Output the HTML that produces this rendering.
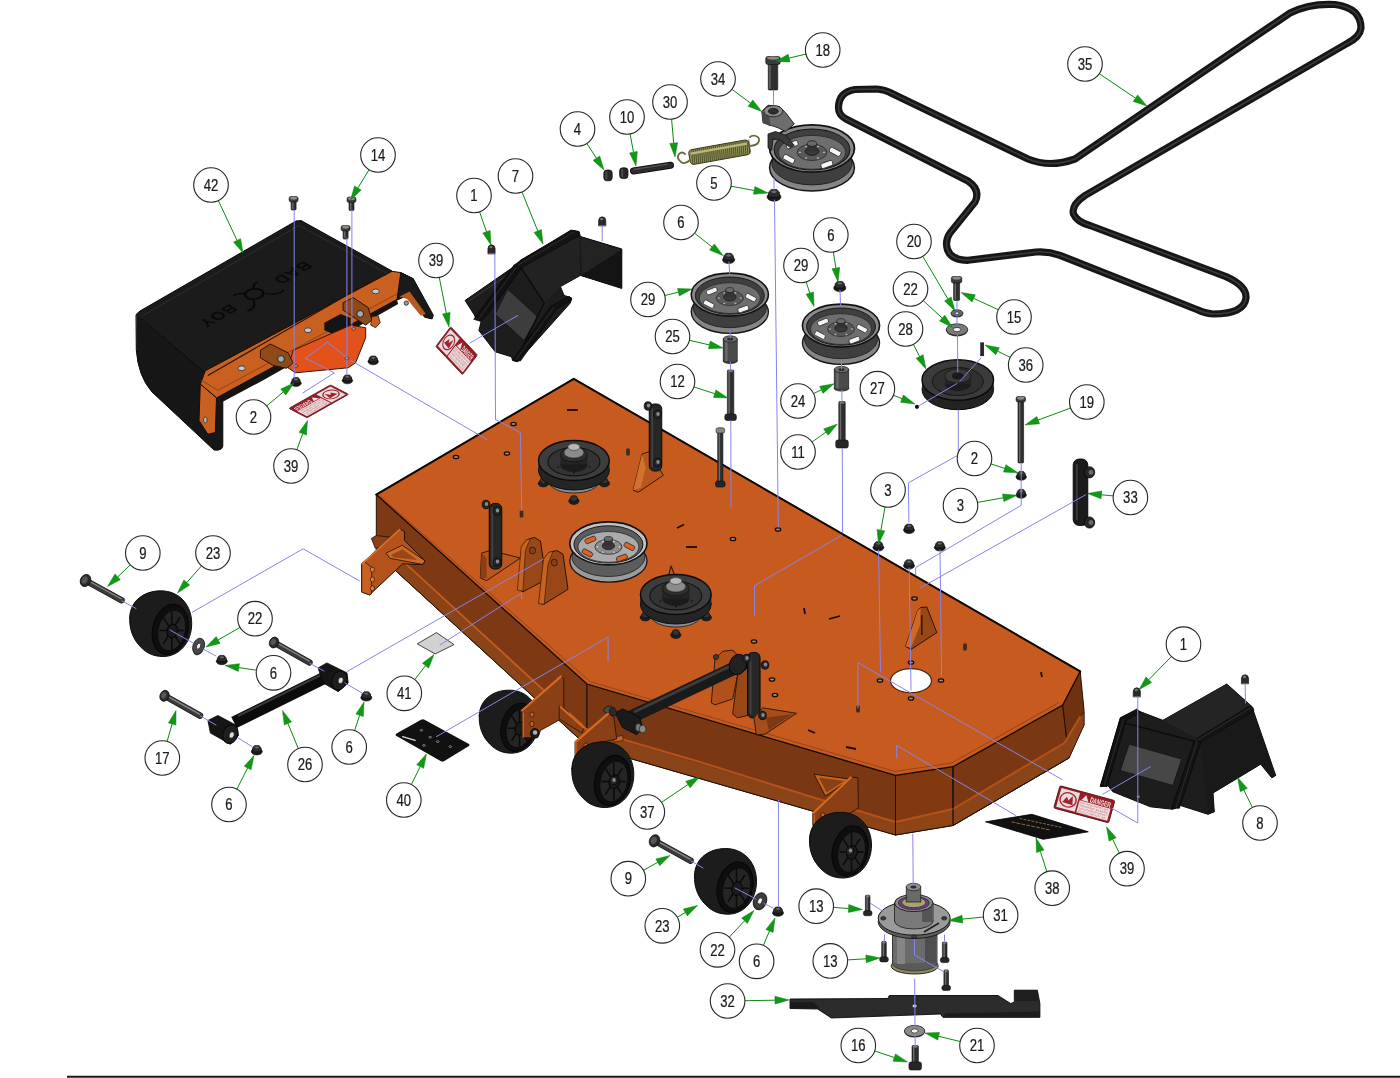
<!DOCTYPE html>
<html lang="en">
<head>
<meta charset="utf-8">
<title>Deck Assembly Parts Diagram</title>
<style>
html,body{margin:0;padding:0;background:#fff;}
body{width:1400px;height:1078px;overflow:hidden;font-family:"Liberation Sans",sans-serif;}
svg{display:block;}
svg text{font-family:"Liberation Sans",sans-serif;font-size:16.6px;fill:#1a1a1a;stroke:#1a1a1a;stroke-width:0.25px;text-anchor:middle;}
</style>
</head>
<body>
<svg width="1400" height="1078" viewBox="0 0 1400 1078">
<defs><filter id="nf" x="0" y="0" width="1400" height="1078" filterUnits="userSpaceOnUse" color-interpolation-filters="sRGB"><feOffset dx="0" dy="0"/></filter></defs>
<rect x="0" y="0" width="1400" height="1078" fill="#ffffff"/>
<polygon points="376.3,494.6 376.3,553 587,746 587,684" fill="#7d3914" stroke="#1f0f06" stroke-width="1" stroke-linejoin="round"/>
<polygon points="377,540 376.3,553 587,746 587,731" fill="#8a4417"/>
<polygon points="587,684 587,746 895.5,835 895.5,775.4" fill="#7a3713" stroke="#1f0f06" stroke-width="1" stroke-linejoin="round"/>
<polygon points="895.5,775.4 895.5,835 953,825.5 953,766.7" fill="#82390f" stroke="#1f0f06" stroke-width="1" stroke-linejoin="round"/>
<polygon points="953,766.7 953,825.5 1069,758 1062.7,705" fill="#7a3713" stroke="#1f0f06" stroke-width="1" stroke-linejoin="round"/>
<polygon points="1062.7,705 1069,758 1084,725 1084,710 1080.2,671.4" fill="#6e3210" stroke="#1f0f06" stroke-width="1" stroke-linejoin="round"/>
<polyline points="378,538.5 587,730" fill="none" stroke="#c25a1e" stroke-width="2" stroke-linejoin="round" stroke-linecap="round"/>
<polyline points="376.3,553 587,746" fill="none" stroke="#1f0f06" stroke-width="1" stroke-linejoin="round" stroke-linecap="round"/>
<polygon points="587,730 587,746 895.5,835 895.5,822.5" fill="#8a4417"/>
<polyline points="587,729 700,762 812,797 895.5,822" fill="none" stroke="#b5521b" stroke-width="2" stroke-linejoin="round" stroke-linecap="round"/>
<polygon points="895.5,822.5 895.5,835 953,825.5 953,809" fill="#8f4416"/>
<polygon points="953,809 953,825.5 1069,758 1084,725 1084,712 1080,717 1064.4,743" fill="#8a4417" stroke="#1f0f06" stroke-width="0.6" stroke-linejoin="round"/>
<polyline points="895.5,822 953,809 1064.4,743 1080,717" fill="none" stroke="#b5521b" stroke-width="2" stroke-linejoin="round" stroke-linecap="round"/>
<polyline points="895.5,775.4 895.5,835" fill="none" stroke="#1f0f06" stroke-width="1" stroke-linejoin="round" stroke-linecap="round"/>
<polyline points="953,766.7 953,825.5" fill="none" stroke="#1f0f06" stroke-width="1" stroke-linejoin="round" stroke-linecap="round"/>
<polyline points="587,746 895.5,835 953,825.5 1069,758" fill="none" stroke="#1f0f06" stroke-width="1" stroke-linejoin="round" stroke-linecap="round"/>
<polygon points="371.4,538.4 376.3,535.5 400.7,538.4 398.7,546.2 375.3,548.2" fill="#8a3f15" stroke="#1f0f06" stroke-width="0.8" stroke-linejoin="round"/>
<polygon points="361.7,563.8 399.7,528.7 404.5,531.6 404.5,540.4 425,560.8 423.1,564.7 402.6,563.8 369.5,594.9 361.7,592" fill="#b5521c" stroke="#1f0f06" stroke-width="1" stroke-linejoin="round"/>
<polygon points="361.7,563.8 364.6,561.8 371.8,567.3 371.4,594 369.5,594.9 361.7,592" fill="#c9601f" stroke="#1f0f06" stroke-width="0.7" stroke-linejoin="round"/>
<polygon points="386,553.1 402.2,545.3 425,560.8 422.5,564.4 389.9,558.3" fill="#d06a26" stroke="#1f0f06" stroke-width="0.8" stroke-linejoin="round"/>
<polygon points="390.9,555 402.6,549.2 417.2,559.9 393.8,557.5" fill="#9a4718"/>
<polyline points="362.1,563.8 399.7,529.3" fill="none" stroke="#d8722a" stroke-width="1.6" stroke-linejoin="round" stroke-linecap="round"/>
<ellipse cx="372.4" cy="569.6" rx="2" ry="2.6" fill="#d8824a" stroke="#3a1a08" stroke-width="0.8"/>
<ellipse cx="372.4" cy="579.4" rx="2" ry="2.6" fill="#d8824a" stroke="#3a1a08" stroke-width="0.8"/>
<ellipse cx="372.4" cy="588.3" rx="2" ry="2.6" fill="#d8824a" stroke="#3a1a08" stroke-width="0.8"/>
<polygon points="573.8,378.8 376.3,494.6 587,684 895.5,775.4 953,766.7 1062.7,705 1080.2,671.4" fill="#c65a1f" stroke="#160a04" stroke-width="1.3" stroke-linejoin="round"/>
<polyline points="381,497 590,681.5 895,771.5 951.5,763 1059,702.5" fill="none" stroke="#8a3f15" stroke-width="0.8" stroke-linejoin="round" stroke-linecap="round"/>
<polyline points="376.3,494.6 573.8,378.8 1080.2,671.4" fill="none" stroke="#120803" stroke-width="2" stroke-linejoin="round" stroke-linecap="round"/>
<ellipse cx="911" cy="680.7" rx="20.5" ry="12" fill="#ffffff" stroke="#4a220c" stroke-width="1.2"/>
<ellipse cx="456" cy="457" rx="2.7" ry="1.7" fill="#9a8a80" stroke="#1a0a04" stroke-width="1.3"/>
<ellipse cx="507" cy="453.5" rx="2.7" ry="1.7" fill="#9a8a80" stroke="#1a0a04" stroke-width="1.3"/>
<ellipse cx="513.5" cy="424" rx="2.7" ry="1.7" fill="#9a8a80" stroke="#1a0a04" stroke-width="1.3"/>
<ellipse cx="733" cy="539" rx="2.7" ry="1.7" fill="#9a8a80" stroke="#1a0a04" stroke-width="1.3"/>
<ellipse cx="778" cy="529.5" rx="2.7" ry="1.7" fill="#9a8a80" stroke="#1a0a04" stroke-width="1.3"/>
<ellipse cx="754" cy="641.5" rx="2.7" ry="1.7" fill="#9a8a80" stroke="#1a0a04" stroke-width="1.3"/>
<ellipse cx="772" cy="679.5" rx="2.7" ry="1.7" fill="#9a8a80" stroke="#1a0a04" stroke-width="1.3"/>
<ellipse cx="775" cy="695" rx="2.7" ry="1.7" fill="#9a8a80" stroke="#1a0a04" stroke-width="1.3"/>
<ellipse cx="880" cy="680.5" rx="2.7" ry="1.7" fill="#9a8a80" stroke="#1a0a04" stroke-width="1.3"/>
<ellipse cx="911" cy="662.5" rx="2.7" ry="1.7" fill="#9a8a80" stroke="#1a0a04" stroke-width="1.3"/>
<ellipse cx="941" cy="680.5" rx="2.7" ry="1.7" fill="#9a8a80" stroke="#1a0a04" stroke-width="1.3"/>
<ellipse cx="911" cy="698.5" rx="2.7" ry="1.7" fill="#9a8a80" stroke="#1a0a04" stroke-width="1.3"/>
<ellipse cx="914.5" cy="598.5" rx="2.7" ry="1.7" fill="#9a8a80" stroke="#1a0a04" stroke-width="1.3"/>
<line x1="567" y1="410" x2="578" y2="410" stroke="#1a0a04" stroke-width="1.8"/>
<line x1="677" y1="528" x2="684" y2="524.5" stroke="#1a0a04" stroke-width="1.8"/>
<line x1="686" y1="547" x2="697" y2="547" stroke="#1a0a04" stroke-width="1.8"/>
<line x1="829" y1="619" x2="840" y2="616" stroke="#1a0a04" stroke-width="1.8"/>
<line x1="808" y1="730" x2="815" y2="733" stroke="#1a0a04" stroke-width="1.8"/>
<line x1="846" y1="747" x2="856" y2="749" stroke="#1a0a04" stroke-width="1.8"/>
<line x1="1041" y1="672" x2="1042" y2="677" stroke="#1a0a04" stroke-width="1.8"/>
<line x1="804" y1="608" x2="805" y2="614" stroke="#1a0a04" stroke-width="1.8"/>
<rect x="519.7" y="510.5" width="3.6" height="7" rx="1" fill="#3a2a22"/>
<rect x="626.2" y="448.5" width="3.6" height="7" rx="1" fill="#3a2a22"/>
<rect x="856.2" y="705.5" width="3.6" height="7" rx="1" fill="#3a2a22"/>
<rect x="963.2" y="643.5" width="3.6" height="7" rx="1" fill="#3a2a22"/>
<path d="M136.3,315 L205,372 L222.8,400 L222.8,446 Q222,451 214,450 L152,392 Q138,376 136.3,350 Z" fill="#161616" stroke="#0a0a0a" stroke-width="1" stroke-linejoin="round" stroke-linecap="round"/>
<polygon points="136.3,314.2 140,311 296,221 301,220.5 392,271 204,372" fill="#1b1b1b" stroke="#0a0a0a" stroke-width="1" stroke-linejoin="round"/>
<polyline points="142,316 299,225.5 388,274" fill="none" stroke="#2e2e2e" stroke-width="1" stroke-linejoin="round" stroke-linecap="round"/>
<g filter="url(#nf)"><g transform="matrix(-0.866 0.5 -0.866 -0.5 256 294)">
<text x="-42" y="5.5" style="font-size:16px;font-weight:bold;fill:#0a0a0a;stroke:none;letter-spacing:1px">BAD</text>
<text x="44" y="5.5" style="font-size:16px;font-weight:bold;fill:#0a0a0a;stroke:none;letter-spacing:1px">BOY</text>
<ellipse cx="1" cy="1" rx="8" ry="7" fill="none" stroke="#070707" stroke-width="2"/>
<path d="M-6,-5 q-6,-10 -14,-7 M8,-5 q6,-10 14,-7 M-4,7 q-4,5 -9,4 M6,7 q4,5 9,4" fill="none" stroke="#070707" stroke-width="1.8"/>
</g></g>
<polygon points="216.5,394.1 395.7,296.4 398.2,303.9 265.4,379.1 223.3,401.6" fill="#141414"/>
<polygon points="200.3,384.1 205.3,370.8 392,271.3 400.8,272.6 413.3,278.8 410.8,292.6 395.7,300.1 216.5,397.9" fill="#c9601f" stroke="#1a0d05" stroke-width="1" stroke-linejoin="round"/>
<polyline points="208.3,375.3 370.7,281.3" fill="none" stroke="#2a1408" stroke-width="1.2" stroke-linejoin="round" stroke-linecap="round"/>
<polyline points="201.5,380.3 217.8,390.4 397,293.9" fill="none" stroke="#8a3f15" stroke-width="0.9" stroke-linejoin="round" stroke-linecap="round"/>
<polygon points="400.8,272.6 413.3,278.8 433.3,315.2 432.1,318.9 424.6,317.2 408.3,295.1 397,300.1" fill="#1a1a1a" stroke="#0a0a0a" stroke-width="1" stroke-linejoin="round"/>
<polygon points="399.5,296.4 409.5,291.4 425.8,313.9 420.8,315.7 407,298.9" fill="#b85a1f"/>
<polygon points="200.3,384.1 216.5,397.9 215.3,432.5 207.8,434.2 199,420.4" fill="#c9601f" stroke="#1a0d05" stroke-width="1" stroke-linejoin="round"/>
<ellipse cx="205.3" cy="419.9" rx="1.8" ry="3" fill="#b9b9b9" stroke="#333" stroke-width="0.8"/>
<ellipse cx="241.6" cy="368.3" rx="3.6" ry="2.4" fill="#c8c8c8" stroke="#3a3a3a" stroke-width="0.9"/>
<ellipse cx="308" cy="330.2" rx="3.6" ry="2.4" fill="#c8c8c8" stroke="#3a3a3a" stroke-width="0.9"/>
<ellipse cx="375.7" cy="291.4" rx="3.6" ry="2.4" fill="#c8c8c8" stroke="#3a3a3a" stroke-width="0.9"/>
<polygon points="324.3,322.7 340.6,313.9 350.6,317.7 350.6,325.2 333.1,334 324.3,330.2" fill="#141414"/>
<polygon points="293,350.3 350.6,325.2 365.7,327.7 365.7,337.7 355.6,362.8 348.1,367.8 295.5,372.8 288,367.8" fill="#e4521b" stroke="#3a1406" stroke-width="1" stroke-linejoin="round"/>
<polygon points="260.4,350.3 270.4,344 288,352.8 293,362.8 286.7,368.3 272.9,365.3 260.4,357.8" fill="#8f4a1b" stroke="#2a1408" stroke-width="1" stroke-linejoin="round"/>
<polygon points="343.1,302.6 353.1,297.6 368.2,307.6 371.9,320.2 365.7,325.2 350.6,315.2 343.1,310.2" fill="#8f4a1b" stroke="#2a1408" stroke-width="1" stroke-linejoin="round"/>
<ellipse cx="281" cy="359" rx="3.4" ry="3.4" fill="#a9a9a9" stroke="#222" stroke-width="1"/>
<ellipse cx="360.2" cy="313.9" rx="3.4" ry="3.4" fill="#a9a9a9" stroke="#222" stroke-width="1"/>
<polygon points="371.9,316.4 378.2,315.7 380.2,322.7 375.7,327.7 370.7,325.2" fill="#c9601f" stroke="#2a1408" stroke-width="0.8" stroke-linejoin="round"/>
<ellipse cx="353.6" cy="328.9" rx="1.8" ry="1.3" fill="#c9a088" stroke="#3a1a08" stroke-width="0.7"/>
<ellipse cx="346.9" cy="358.5" rx="1.8" ry="1.3" fill="#c9a088" stroke="#3a1a08" stroke-width="0.7"/>
<ellipse cx="296" cy="365.8" rx="1.8" ry="1.3" fill="#c9a088" stroke="#3a1a08" stroke-width="0.7"/>
<ellipse cx="406.3" cy="303.1" rx="2.2" ry="2.2" fill="#999" stroke="#222" stroke-width="0.8"/>
<polygon points="465.1,300.4 514,266.6 520.3,260.3 571.6,230.3 579.1,231.5 580.4,236.5 621.8,249 621.8,288.4 580.4,275.4 560.4,286.6 564.1,295.4 571.6,297.9 570.4,302.9 517.7,361.8 512.7,360.6 511.5,356.8 495.2,351.8 478.9,330.5 481.4,320.5 476.4,319.2 473.9,314.2" fill="#1d1d1d" stroke="#0a0a0a" stroke-width="1" stroke-linejoin="round"/>
<polygon points="580.4,236.5 621.8,249 621.8,288.4 580.4,275.4" fill="#141414"/>
<polygon points="580.4,237.3 621.3,249.8 581.7,274.9" fill="#232323"/>
<polygon points="520.3,264.1 572.9,234 579.1,237.8 580.4,275.4 560.4,286.6 545.3,302.9 522.8,270.4" fill="#222"/>
<polygon points="507.7,289.1 537.8,316.7 524,340.5 495.2,314.2" fill="#3d3d3d" stroke="#111" stroke-width="0.8" stroke-linejoin="round"/>
<polyline points="467.6,301.7 516.5,269.1 572.9,232.8" fill="none" stroke="#3a3a3a" stroke-width="1" stroke-linejoin="round" stroke-linecap="round"/>
<polyline points="520.3,266.6 544.1,302.9 516.5,359.3" fill="none" stroke="#0c0c0c" stroke-width="1.5" stroke-linejoin="round" stroke-linecap="round"/>
<polygon points="473.7,319.3 513.3,266.1 519,262.5 522.6,266.8 485.2,317.1 480.9,321.4" fill="#121212" stroke="#060606" stroke-width="0.7" stroke-linejoin="round"/>
<polyline points="478.8,318.6 517.6,265.4" fill="none" stroke="#333" stroke-width="0.8" stroke-linejoin="round" stroke-linecap="round"/>
<polygon points="512.5,360.3 550.6,306.3 569.3,296.3 571.9,299.9 556.4,309.2 520.5,361" fill="#121212" stroke="#060606" stroke-width="0.7" stroke-linejoin="round"/>
<polyline points="516.1,359.5 553.5,307.8" fill="none" stroke="#333" stroke-width="0.8" stroke-linejoin="round" stroke-linecap="round"/>
<polygon points="513.3,265.4 570.8,230.1 578,231.6 578.7,235.9 521.9,267.5" fill="#141414" stroke="#060606" stroke-width="0.6" stroke-linejoin="round"/>
<polyline points="517.6,265.4 573.7,232.3" fill="none" stroke="#333" stroke-width="0.8" stroke-linejoin="round" stroke-linecap="round"/>
<polygon points="1120.3,717.8 1136.6,710.3 1162.9,720.3 1226.8,684 1251.9,706.5 1275.7,775.4 1271.9,777.9 1260.7,764.2 1213,793 1214.3,811.8 1208,814.3 1180.5,805.5 1172.9,809.3 1150.4,806.8 1112.8,791.7 1107.8,785.5 1100.3,786.7" fill="#1d1d1d" stroke="#0a0a0a" stroke-width="1" stroke-linejoin="round"/>
<polygon points="1200.5,740.4 1251.9,709 1275.7,775.4 1271.9,777.9 1260.7,764.2 1213,793 1214.3,811.8 1208,814.3" fill="#191919"/>
<polygon points="1162.9,720.3 1226.8,684 1251.9,706.5 1198,739.1" fill="#242424"/>
<polygon points="1129.1,744.1 1181.7,759.1 1172.9,785.5 1120.3,770.4" fill="#474747" stroke="#111" stroke-width="0.8" stroke-linejoin="round"/>
<polyline points="1195.5,740.4 1250.6,707.8" fill="none" stroke="#3a3a3a" stroke-width="1.2" stroke-linejoin="round" stroke-linecap="round"/>
<polyline points="1124.1,722.8 1195.5,741.6 1175.4,808" fill="none" stroke="#0c0c0c" stroke-width="1.5" stroke-linejoin="round" stroke-linecap="round"/>
<polyline points="1121.6,720.3 1101.5,785.5" fill="none" stroke="#0c0c0c" stroke-width="1.5" stroke-linejoin="round" stroke-linecap="round"/>
<ellipse cx="1138.3" cy="796.7" rx="1.6" ry="1.2" fill="#777"/>
<polygon points="1100.4,785.7 1120.5,717.7 1136.7,709.1 1140.6,712 1126.2,720.6 1107,786.8" fill="#121212" stroke="#060606" stroke-width="0.7" stroke-linejoin="round"/>
<polyline points="1123.4,719.6 1104.4,785" fill="none" stroke="#333" stroke-width="0.8" stroke-linejoin="round" stroke-linecap="round"/>
<polygon points="1171.7,808.3 1194.2,740.7 1201,741.9 1179.4,808.3" fill="#131313" stroke="#060606" stroke-width="0.7" stroke-linejoin="round"/>
<polyline points="1197.1,741.6 1176,807.7" fill="none" stroke="#343434" stroke-width="0.8" stroke-linejoin="round" stroke-linecap="round"/>
<polygon points="1195.7,739 1249.6,705.9 1253.2,707.7 1253.9,711 1200.7,742.6" fill="#141414" stroke="#060606" stroke-width="0.6" stroke-linejoin="round"/>
<polyline points="1197.1,740.5 1250.7,707.7" fill="none" stroke="#333" stroke-width="0.8" stroke-linejoin="round" stroke-linecap="round"/>
<g filter="url(#nf)"><g transform="matrix(0.9804 0.2661 -0.2423 0.8577 1060 785.7)">
<rect x="0" y="0" width="56" height="26" rx="1.5" fill="#9a1c26" stroke="#4a0a10" stroke-width="0.8"/>
<rect x="2" y="2" width="19" height="22" fill="#e8dcdc"/>
<circle cx="11.5" cy="13" r="8" fill="#e8dcdc" stroke="#a3212b" stroke-width="1.4"/>
<path d="M6.5,17 l3,-7 l2.5,3.5 l3,-6 l2,10 z" fill="#a3212b"/>
<rect x="22.5" y="10" width="31.5" height="14" fill="#eee3e3"/>
<path d="M24,9.2 l3.6,-6.6 l3.6,6.6 z" fill="#f1e4e4"/>
<text x="42.8" y="9.3" style="font-size:8.6px;font-weight:bold;fill:#f3e6e6;stroke:none" textLength="21" lengthAdjust="spacingAndGlyphs">DANGER</text>
<text x="38.2" y="13.4" style="font-size:3px;fill:#c0555e;stroke:none" textLength="29" lengthAdjust="spacingAndGlyphs">KEEP HANDS AND FEET AWAY</text>
<text x="38.2" y="16.6" style="font-size:3px;fill:#c0555e;stroke:none" textLength="29" lengthAdjust="spacingAndGlyphs">ROTATING BLADES</text>
<text x="38.2" y="19.8" style="font-size:3px;fill:#c0555e;stroke:none" textLength="29" lengthAdjust="spacingAndGlyphs">DO NOT OPERATE WITHOUT</text>
<text x="38.2" y="23" style="font-size:3px;fill:#c0555e;stroke:none" textLength="29" lengthAdjust="spacingAndGlyphs">DEFLECTOR IN PLACE</text>
</g></g>
<g filter="url(#nf)"><g transform="matrix(-0.7429 0.4196 0.6962 0.3615 330.5 384.9)">
<rect x="0" y="0" width="56" height="26" rx="1.5" fill="#9a1c26" stroke="#4a0a10" stroke-width="0.8"/>
<rect x="2" y="2" width="19" height="22" fill="#e8dcdc"/>
<circle cx="11.5" cy="13" r="8" fill="#e8dcdc" stroke="#a3212b" stroke-width="1.4"/>
<path d="M6.5,17 l3,-7 l2.5,3.5 l3,-6 l2,10 z" fill="#a3212b"/>
<rect x="22.5" y="10" width="31.5" height="14" fill="#eee3e3"/>
<path d="M24,9.2 l3.6,-6.6 l3.6,6.6 z" fill="#f1e4e4"/>
<text x="42.8" y="9.3" style="font-size:8.6px;font-weight:bold;fill:#f3e6e6;stroke:none" textLength="21" lengthAdjust="spacingAndGlyphs">DANGER</text>
<text x="38.2" y="13.4" style="font-size:3px;fill:#c0555e;stroke:none" textLength="29" lengthAdjust="spacingAndGlyphs">KEEP HANDS AND FEET AWAY</text>
<text x="38.2" y="16.6" style="font-size:3px;fill:#c0555e;stroke:none" textLength="29" lengthAdjust="spacingAndGlyphs">ROTATING BLADES</text>
<text x="38.2" y="19.8" style="font-size:3px;fill:#c0555e;stroke:none" textLength="29" lengthAdjust="spacingAndGlyphs">DO NOT OPERATE WITHOUT</text>
<text x="38.2" y="23" style="font-size:3px;fill:#c0555e;stroke:none" textLength="29" lengthAdjust="spacingAndGlyphs">DEFLECTOR IN PLACE</text>
</g></g>
<g filter="url(#nf)"><g transform="matrix(0.4768 0.5054 -0.5731 0.7577 450.7 326.7)">
<rect x="0" y="0" width="56" height="26" rx="1.5" fill="#9a1c26" stroke="#4a0a10" stroke-width="0.8"/>
<rect x="2" y="2" width="19" height="22" fill="#e8dcdc"/>
<circle cx="11.5" cy="13" r="8" fill="#e8dcdc" stroke="#a3212b" stroke-width="1.4"/>
<path d="M6.5,17 l3,-7 l2.5,3.5 l3,-6 l2,10 z" fill="#a3212b"/>
<rect x="22.5" y="10" width="31.5" height="14" fill="#eee3e3"/>
<path d="M24,9.2 l3.6,-6.6 l3.6,6.6 z" fill="#f1e4e4"/>
<text x="42.8" y="9.3" style="font-size:8.6px;font-weight:bold;fill:#f3e6e6;stroke:none" textLength="21" lengthAdjust="spacingAndGlyphs">DANGER</text>
<text x="38.2" y="13.4" style="font-size:3px;fill:#c0555e;stroke:none" textLength="29" lengthAdjust="spacingAndGlyphs">KEEP HANDS AND FEET AWAY</text>
<text x="38.2" y="16.6" style="font-size:3px;fill:#c0555e;stroke:none" textLength="29" lengthAdjust="spacingAndGlyphs">ROTATING BLADES</text>
<text x="38.2" y="19.8" style="font-size:3px;fill:#c0555e;stroke:none" textLength="29" lengthAdjust="spacingAndGlyphs">DO NOT OPERATE WITHOUT</text>
<text x="38.2" y="23" style="font-size:3px;fill:#c0555e;stroke:none" textLength="29" lengthAdjust="spacingAndGlyphs">DEFLECTOR IN PLACE</text>
</g></g>
<polygon points="417.2,643.9 436.5,632.6 454,644.6 435.2,653.9" fill="#d2d2d2" stroke="#333" stroke-width="0.9" stroke-linejoin="round"/>
<path d="M396.5,733.5 L421,719.8 Q423,718.8 425,719.9 L468.5,743.8 Q470.5,745 468.5,746.3 L444,761.2 Q442.5,762 441,761.2 L396.5,736 Q394.5,734.8 396.5,733.5 Z" fill="#111"/>
<polyline points="402.6,736.6 415.2,740.4" fill="none" stroke="#ddd" stroke-width="1.2" stroke-linejoin="round" stroke-linecap="round"/>
<ellipse cx="421.4" cy="730.3" rx="1.3" ry="0.9" fill="none" stroke="#bbb" stroke-width="0.6"/>
<ellipse cx="430.2" cy="737.3" rx="1.3" ry="0.9" fill="none" stroke="#bbb" stroke-width="0.6"/>
<ellipse cx="437.7" cy="741.6" rx="1.3" ry="0.9" fill="none" stroke="#bbb" stroke-width="0.6"/>
<ellipse cx="450.3" cy="746.6" rx="1.3" ry="0.9" fill="none" stroke="#bbb" stroke-width="0.6"/>
<ellipse cx="423.9" cy="745.4" rx="1.3" ry="0.9" fill="none" stroke="#bbb" stroke-width="0.6"/>
<polygon points="985.5,821.8 1031.9,814.3 1088.3,831.8 1043.2,839.3" fill="#111" stroke="#000" stroke-width="0.8" stroke-linejoin="round"/>
<polyline points="1012,822 1050,830" fill="none" stroke="#8a6a3a" stroke-width="1" stroke-linejoin="round" stroke-linecap="round" stroke-dasharray="3 2"/>
<polyline points="1020,818.5 1062,827.5" fill="none" stroke="#8a6a3a" stroke-width="1" stroke-linejoin="round" stroke-linecap="round" stroke-dasharray="2 2"/>
<path d="M838.5,108 Q838.5,92 855,89.5 L876,89 Q885,89.5 892,93.5 L1028,159 Q1050,168 1075,159 L1290,13 Q1310,3 1335,4.5 Q1361,8 1361,28 Q1360,37 1347,43.5 L1085,195.5 Q1071,205 1073.5,214 Q1077,222 1090,225.5 L1226,276.6 Q1247,286 1246,298 Q1244,314 1213,314 Q1204,313 1198,310 L1060,255.3 Q1048,251 1036,252 L968,260.3 Q947,260 946.5,244 Q946.5,238 950,233 L975,202 Q981,190 968,181 L846,119 Q838.5,115 838.5,108 Z" fill="none" stroke="#161616" stroke-width="7.2" stroke-linejoin="round" stroke-linecap="round"/>
<path d="M838.5,108 Q838.5,92 855,89.5 L876,89 Q885,89.5 892,93.5 L1028,159 Q1050,168 1075,159 L1290,13 Q1310,3 1335,4.5 Q1361,8 1361,28 Q1360,37 1347,43.5 L1085,195.5 Q1071,205 1073.5,214 Q1077,222 1090,225.5 L1226,276.6 Q1247,286 1246,298 Q1244,314 1213,314 Q1204,313 1198,310 L1060,255.3 Q1048,251 1036,252 L968,260.3 Q947,260 946.5,244 Q946.5,238 950,233 L975,202 Q981,190 968,181 L846,119 Q838.5,115 838.5,108 Z" fill="none" stroke="#3a3a3a" stroke-width="1.6" stroke-linejoin="round" stroke-linecap="round"/>
<polygon points="633.2,490.3 642,454 649.5,451.5 663.3,475.3 638.2,492.3" fill="#b8561d" stroke="#2a1206" stroke-width="0.9" stroke-linejoin="round"/>
<polygon points="633.2,490.3 642,454 645.7,467.8 640.7,487.8" fill="#d2722f"/>
<polygon points="480.3,578 481.6,553 490.4,550.5 520.4,558 486.6,580.6" fill="#b8561d" stroke="#2a1206" stroke-width="0.9" stroke-linejoin="round"/>
<polygon points="480.3,578 481.6,553 486.6,558 486.6,578" fill="#8a3f15"/>
<polygon points="519.2,589.3 521.7,546.7 526.7,539.9 534.2,537.4 540.5,541 543,558 544.2,580.6 522.9,591.8" fill="#9a4718" stroke="#2a1206" stroke-width="1" stroke-linejoin="round"/>
<polygon points="517.4,590.1 521.2,546.7 526.2,539.9 530.5,538.4 525.4,550.5 522.9,591.1" fill="#c8621f" stroke="#2a1206" stroke-width="0.6" stroke-linejoin="round"/>
<ellipse cx="532.5" cy="550.5" rx="3" ry="3.4" fill="#8a3f15" stroke="#2a1206" stroke-width="0.8"/>
<polygon points="539.2,603.1 544.2,559.2 549.2,552.5 556.8,550.5 563,554.2 568,589.3 543.5,604.4" fill="#9a4718" stroke="#2a1206" stroke-width="1" stroke-linejoin="round"/>
<polygon points="538.5,603.6 543.5,559.2 548.5,552.5 553,551.2 548,564.3 544.2,604.4" fill="#c8621f" stroke="#2a1206" stroke-width="0.6" stroke-linejoin="round"/>
<ellipse cx="554.3" cy="562.5" rx="3" ry="3.4" fill="#8a3f15" stroke="#2a1206" stroke-width="0.8"/>
<rect x="649.25" y="404" width="12.5" height="67" rx="5" fill="#272727" stroke="#0a0a0a" stroke-width="1"/>
<rect x="651.45" y="408" width="1.6" height="59" rx="0" fill="#444"/>
<ellipse cx="648" cy="406" rx="3.8" ry="4.2" fill="#262626" stroke="#0a0a0a" stroke-width="0.8"/>
<ellipse cx="648.5" cy="405.5" rx="1.7" ry="1.9" fill="#8a8a8a"/>
<ellipse cx="657.5" cy="414.5" rx="3.8" ry="4.2" fill="#262626" stroke="#0a0a0a" stroke-width="0.8"/>
<ellipse cx="658" cy="414" rx="1.7" ry="1.9" fill="#8a8a8a"/>
<ellipse cx="657.5" cy="462.5" rx="3.8" ry="4.2" fill="#262626" stroke="#0a0a0a" stroke-width="0.8"/>
<ellipse cx="658" cy="462" rx="1.7" ry="1.9" fill="#8a8a8a"/>
<rect x="489.25" y="503.5" width="12.5" height="65.5" rx="5" fill="#272727" stroke="#0a0a0a" stroke-width="1"/>
<rect x="491.45" y="507.5" width="1.6" height="57.5" rx="0" fill="#444"/>
<ellipse cx="486" cy="504.5" rx="3.8" ry="4.2" fill="#262626" stroke="#0a0a0a" stroke-width="0.8"/>
<ellipse cx="486.5" cy="504" rx="1.7" ry="1.9" fill="#8a8a8a"/>
<ellipse cx="497" cy="511" rx="3.8" ry="4.2" fill="#262626" stroke="#0a0a0a" stroke-width="0.8"/>
<ellipse cx="497.5" cy="510.5" rx="1.7" ry="1.9" fill="#8a8a8a"/>
<ellipse cx="497" cy="562" rx="3.8" ry="4.2" fill="#262626" stroke="#0a0a0a" stroke-width="0.8"/>
<ellipse cx="497.5" cy="561.5" rx="1.7" ry="1.9" fill="#8a8a8a"/>
<rect x="717.7" y="428" width="5.2" height="54" rx="1" fill="#2f2f2f" stroke="#0f0f0f" stroke-width="0.6"/>
<rect x="718.7" y="429" width="1.4" height="52" rx="0" fill="#6a6a6a"/>
<ellipse cx="720.3" cy="429" rx="2" ry="1.2" fill="#777"/>
<rect x="715.55" y="481" width="9.5" height="6" rx="2" fill="#262626" stroke="#0a0a0a" stroke-width="0.6"/>
<rect x="716" y="428" width="8.6" height="5" rx="1.5" fill="#8a8a8a" stroke="#222" stroke-width="0.6"/>
<polygon points="905.5,646.4 917.5,611.3 920.6,607.5 926.8,607 936.8,632.6 911,649.4" fill="#9a4718" stroke="#2a1206" stroke-width="1" stroke-linejoin="round"/>
<polygon points="905.5,646.4 917.5,611.3 920.6,608 920.1,625.1 911,647.6" fill="#cf6a25"/>
<line x1="921.8" y1="615" x2="921.8" y2="635.1" stroke="#3a1a08" stroke-width="1.6"/>
<polyline points="669,574 671,566 675,576" fill="none" stroke="#3a1a08" stroke-width="1.2" stroke-linejoin="round" stroke-linecap="round"/>
<ellipse cx="573.9" cy="481.5" rx="25" ry="11.5" fill="#8e8e8e" stroke="#222" stroke-width="0.9"/>
<ellipse cx="543.4" cy="483.5" rx="5.2" ry="3.4" fill="#1e1e1e" stroke="#0a0a0a" stroke-width="0.6"/>
<ellipse cx="543.4" cy="481" rx="3.6" ry="3" fill="#333" stroke="#0a0a0a" stroke-width="0.6"/>
<ellipse cx="604.4" cy="483.5" rx="5.2" ry="3.4" fill="#1e1e1e" stroke="#0a0a0a" stroke-width="0.6"/>
<ellipse cx="604.4" cy="481" rx="3.6" ry="3" fill="#333" stroke="#0a0a0a" stroke-width="0.6"/>
<ellipse cx="573.9" cy="501" rx="5.2" ry="3.4" fill="#1e1e1e" stroke="#0a0a0a" stroke-width="0.6"/>
<ellipse cx="573.9" cy="498.5" rx="3.6" ry="3" fill="#333" stroke="#0a0a0a" stroke-width="0.6"/>
<ellipse cx="573.9" cy="470" rx="35.4" ry="20" fill="#252525" stroke="#0c0c0c" stroke-width="1"/>
<rect x="538.5" y="460.5" width="70.8" height="9.5" rx="0" fill="#252525"/>
<ellipse cx="573.9" cy="460.5" rx="35.4" ry="20" fill="#3d3d3d" stroke="#0c0c0c" stroke-width="1.4"/>
<ellipse cx="573.9" cy="461.7" rx="26" ry="14.2" fill="#333" stroke="#141414" stroke-width="1.1"/>
<ellipse cx="573.9" cy="464.5" rx="13.5" ry="7.6" fill="#1b1b1b"/>
<rect x="560.4" y="454.5" width="27" height="10" rx="0" fill="#232323"/>
<ellipse cx="573.9" cy="454.5" rx="13.5" ry="7.4" fill="#2d2d2d" stroke="#111" stroke-width="0.7"/>
<ellipse cx="573.9" cy="452.5" rx="10" ry="5.6" fill="#8c8c8c" stroke="#222" stroke-width="0.6"/>
<rect x="567.9" y="447" width="12" height="5.5" rx="0" fill="#8a8a8a"/>
<ellipse cx="573.9" cy="447" rx="6" ry="3.4" fill="#b8b8b8" stroke="#333" stroke-width="0.6"/>
<ellipse cx="558.4" cy="467" rx="1" ry="0.8" fill="#111"/>
<ellipse cx="589.9" cy="467" rx="1" ry="0.8" fill="#111"/>
<ellipse cx="573.9" cy="472.5" rx="1" ry="0.8" fill="#111"/>
<ellipse cx="608.4" cy="560.9" rx="38.6" ry="21.2" fill="#9b9b9b" stroke="#151515" stroke-width="1.3"/>
<ellipse cx="608.4" cy="556.9" rx="36.5" ry="19.6" fill="#5c5c5c" stroke="#1a1a1a" stroke-width="0.8"/>
<rect x="574.9" y="545.4" width="67" height="11" rx="0" fill="#5c5c5c"/>
<ellipse cx="608.4" cy="543.4" rx="38.6" ry="21.5" fill="#c2c2c2" stroke="#131313" stroke-width="1.6"/>
<ellipse cx="608.4" cy="544.4" rx="34.5" ry="18.6" fill="#5c5c5c" stroke="#1a1a1a" stroke-width="1"/>
<ellipse cx="608.4" cy="546.9" rx="30.5" ry="15.4" fill="#ababab" stroke="#2a2a2a" stroke-width="0.8"/>
<rect x="584.9" y="537.5" width="11" height="4.8" rx="1.6" fill="#e0621f" stroke="#222" stroke-width="0.7" transform="rotate(-22 590.4 539.9)"/>
<rect x="623.9" y="544" width="11" height="4.8" rx="1.6" fill="#e0621f" stroke="#222" stroke-width="0.7" transform="rotate(28 629.4 546.4)"/>
<rect x="581.9" y="550.5" width="11" height="4.8" rx="1.6" fill="#e0621f" stroke="#222" stroke-width="0.7" transform="rotate(28 587.4 552.9)"/>
<rect x="616.4" y="555.5" width="11" height="4.8" rx="1.6" fill="#e0621f" stroke="#222" stroke-width="0.7" transform="rotate(-20 621.9 557.9)"/>
<ellipse cx="608.4" cy="546.9" rx="13.5" ry="7.4" fill="#8e8e8e" stroke="#2a2a2a" stroke-width="0.8"/>
<ellipse cx="619.4" cy="546.9" rx="1.5" ry="1.1" fill="#e6e6e6" stroke="#333" stroke-width="0.4"/>
<ellipse cx="613.9" cy="552.1" rx="1.5" ry="1.1" fill="#e6e6e6" stroke="#333" stroke-width="0.4"/>
<ellipse cx="602.9" cy="552.1" rx="1.5" ry="1.1" fill="#e6e6e6" stroke="#333" stroke-width="0.4"/>
<ellipse cx="597.4" cy="546.9" rx="1.5" ry="1.1" fill="#e6e6e6" stroke="#333" stroke-width="0.4"/>
<ellipse cx="602.9" cy="541.7" rx="1.5" ry="1.1" fill="#e6e6e6" stroke="#333" stroke-width="0.4"/>
<ellipse cx="613.9" cy="541.7" rx="1.5" ry="1.1" fill="#e6e6e6" stroke="#333" stroke-width="0.4"/>
<ellipse cx="608.4" cy="545.9" rx="6.2" ry="3.8" fill="#3a3a3a" stroke="#111" stroke-width="0.7"/>
<rect x="604.2" y="538.9" width="8.4" height="7" rx="0" fill="#333"/>
<ellipse cx="608.4" cy="538.9" rx="4.2" ry="2.5" fill="#6a6a6a" stroke="#111" stroke-width="0.6"/>
<ellipse cx="675.8" cy="615.5" rx="25" ry="11.5" fill="#8e8e8e" stroke="#222" stroke-width="0.9"/>
<ellipse cx="645.3" cy="617.5" rx="5.2" ry="3.4" fill="#1e1e1e" stroke="#0a0a0a" stroke-width="0.6"/>
<ellipse cx="645.3" cy="615" rx="3.6" ry="3" fill="#333" stroke="#0a0a0a" stroke-width="0.6"/>
<ellipse cx="706.3" cy="617.5" rx="5.2" ry="3.4" fill="#1e1e1e" stroke="#0a0a0a" stroke-width="0.6"/>
<ellipse cx="706.3" cy="615" rx="3.6" ry="3" fill="#333" stroke="#0a0a0a" stroke-width="0.6"/>
<ellipse cx="675.8" cy="635" rx="5.2" ry="3.4" fill="#1e1e1e" stroke="#0a0a0a" stroke-width="0.6"/>
<ellipse cx="675.8" cy="632.5" rx="3.6" ry="3" fill="#333" stroke="#0a0a0a" stroke-width="0.6"/>
<ellipse cx="675.8" cy="604" rx="35.4" ry="20" fill="#252525" stroke="#0c0c0c" stroke-width="1"/>
<rect x="640.4" y="594.5" width="70.8" height="9.5" rx="0" fill="#252525"/>
<ellipse cx="675.8" cy="594.5" rx="35.4" ry="20" fill="#3d3d3d" stroke="#0c0c0c" stroke-width="1.4"/>
<ellipse cx="675.8" cy="595.7" rx="26" ry="14.2" fill="#333" stroke="#141414" stroke-width="1.1"/>
<ellipse cx="675.8" cy="598.5" rx="13.5" ry="7.6" fill="#1b1b1b"/>
<rect x="662.3" y="588.5" width="27" height="10" rx="0" fill="#232323"/>
<ellipse cx="675.8" cy="588.5" rx="13.5" ry="7.4" fill="#2d2d2d" stroke="#111" stroke-width="0.7"/>
<ellipse cx="675.8" cy="586.5" rx="10" ry="5.6" fill="#8c8c8c" stroke="#222" stroke-width="0.6"/>
<rect x="669.8" y="581" width="12" height="5.5" rx="0" fill="#8a8a8a"/>
<ellipse cx="675.8" cy="581" rx="6" ry="3.4" fill="#b8b8b8" stroke="#333" stroke-width="0.6"/>
<ellipse cx="660.3" cy="601" rx="1" ry="0.8" fill="#111"/>
<ellipse cx="691.8" cy="601" rx="1" ry="0.8" fill="#111"/>
<ellipse cx="675.8" cy="606.5" rx="1" ry="0.8" fill="#111"/>
<polygon points="711.3,702.8 715,658.9 722.6,651.4 732.6,650.1 740.1,657.6 737.6,675.2 732.6,699 715,704.8" fill="#b0511b" stroke="#2a1206" stroke-width="0.9" stroke-linejoin="round"/>
<polygon points="732.6,714 737.6,675.2 746.4,660.2 757.6,666.4 753.9,714 737.6,717.8" fill="#9a4718" stroke="#2a1206" stroke-width="0.9" stroke-linejoin="round"/>
<line x1="630" y1="717.5" x2="742" y2="664.5" stroke="#1a1a1a" stroke-width="13" stroke-linecap="round"/>
<line x1="634" y1="712" x2="740" y2="661.5" stroke="#3c3c3c" stroke-width="3"/>
<polygon points="615.3,713.1 622.5,708.8 639.7,717.4 642.6,727.5 636.9,734.7 622.5,727.5" fill="#1a1a1a" stroke="#050505" stroke-width="0.8" stroke-linejoin="round"/>
<ellipse cx="608.1" cy="709.5" rx="4.5" ry="3" fill="#4a4a4a" stroke="#111" stroke-width="0.7" transform="rotate(-20 608.1 709.5)"/>
<ellipse cx="613.1" cy="711.7" rx="3.2" ry="4.6" fill="#2a2a2a" stroke="#111" stroke-width="0.7" transform="rotate(-20 613.1 711.7)"/>
<ellipse cx="638.3" cy="727.5" rx="3" ry="4" fill="#777" stroke="#111" stroke-width="0.7"/>
<ellipse cx="642.6" cy="729" rx="3.4" ry="3.8" fill="#8a8a8a" stroke="#222" stroke-width="0.7"/>
<polygon points="612.4,737.6 622.5,735.4 623.2,740.5 614.6,741.9" fill="#c8621f" stroke="#2a1206" stroke-width="0.6" stroke-linejoin="round"/>
<ellipse cx="738" cy="664.5" rx="8.5" ry="10.5" fill="#222" stroke="#050505" stroke-width="0.8" transform="rotate(20 738 664.5)"/>
<rect x="747.55" y="652.5" width="12.5" height="65.5" rx="5" fill="#272727" stroke="#0a0a0a" stroke-width="1"/>
<rect x="749.75" y="656.5" width="1.6" height="57.5" rx="0" fill="#444"/>
<ellipse cx="746.5" cy="658.5" rx="3.8" ry="4.2" fill="#262626" stroke="#0a0a0a" stroke-width="0.8"/>
<ellipse cx="747" cy="658" rx="1.7" ry="1.9" fill="#8a8a8a"/>
<ellipse cx="765" cy="665" rx="3.8" ry="4.2" fill="#262626" stroke="#0a0a0a" stroke-width="0.8"/>
<ellipse cx="765.5" cy="664.5" rx="1.7" ry="1.9" fill="#8a8a8a"/>
<ellipse cx="762.5" cy="715.5" rx="3.8" ry="4.2" fill="#262626" stroke="#0a0a0a" stroke-width="0.8"/>
<ellipse cx="763" cy="715" rx="1.7" ry="1.9" fill="#8a8a8a"/>
<ellipse cx="716" cy="657" rx="2.6" ry="2.6" fill="#3a3a3a" stroke="#0a0a0a" stroke-width="0.6"/>
<polygon points="753.9,717.8 762.7,707.8 796.5,713.3 765.2,734.1 756.4,734.8" fill="#a84d19" stroke="#2a1206" stroke-width="0.9" stroke-linejoin="round"/>
<polygon points="765.7,717.8 792.7,714 768.9,730.3" fill="#7d3914"/>
<ellipse cx="762.5" cy="715.5" rx="3.8" ry="4.2" fill="#262626" stroke="#0a0a0a" stroke-width="0.8"/>
<ellipse cx="763" cy="715" rx="1.7" ry="1.9" fill="#8a8a8a"/>
<g transform="translate(508.5 721.5) scale(0.96)">
<path d="M-30.5,-6 C-30,-24 -14,-34 4,-32.5 C20,-31 31.5,-18 31.5,0 C31.5,19 19,33 3,33 C-6,33 -13,30 -19,24 C-27,16 -31,6 -30.5,-6 Z" fill="#1c1c1c" stroke="#0c0c0c" stroke-width="1" stroke-linejoin="round" stroke-linecap="round"/>
<ellipse cx="10" cy="6" rx="17.5" ry="25.5" fill="#0e0e0e" stroke="#050505" stroke-width="1" transform="rotate(14 10 6)"/>
<ellipse cx="11.5" cy="7" rx="13.5" ry="20.5" fill="#252525" stroke="#0a0a0a" stroke-width="0.8" transform="rotate(14 11.5 7)"/>
<line x1="11.5" y1="7" x2="23.5" y2="7" stroke="#0b0b0b" stroke-width="1.6"/>
<line x1="11.5" y1="7" x2="20" y2="20.4" stroke="#0b0b0b" stroke-width="1.6"/>
<line x1="11.5" y1="7" x2="11.5" y2="26" stroke="#0b0b0b" stroke-width="1.6"/>
<line x1="11.5" y1="7" x2="3" y2="20.4" stroke="#0b0b0b" stroke-width="1.6"/>
<line x1="11.5" y1="7" x2="-0.5" y2="7" stroke="#0b0b0b" stroke-width="1.6"/>
<line x1="11.5" y1="7" x2="3" y2="-6.4" stroke="#0b0b0b" stroke-width="1.6"/>
<line x1="11.5" y1="7" x2="11.5" y2="-12" stroke="#0b0b0b" stroke-width="1.6"/>
<line x1="11.5" y1="7" x2="20" y2="-6.4" stroke="#0b0b0b" stroke-width="1.6"/>
<ellipse cx="12" cy="7.5" rx="5.2" ry="7" fill="#1a1a1a" stroke="#000" stroke-width="0.8" transform="rotate(14 12 7.5)"/>
</g>
<polygon points="521.8,710.3 560.6,675.8 563.8,678.6 563.8,717.4 540.5,730.4 537.6,737.6 523.3,737.6" fill="#8a3f15" stroke="#2a1206" stroke-width="0.9" stroke-linejoin="round"/>
<polyline points="522.1,710.5 560.9,676.3" fill="none" stroke="#d56a24" stroke-width="2.2" stroke-linejoin="round" stroke-linecap="round"/>
<polyline points="523.3,713.1 523.3,736.9" fill="none" stroke="#c9601f" stroke-width="1.6" stroke-linejoin="round" stroke-linecap="round"/>
<polygon points="559.2,705.9 565,708.8 583.7,727.5 582.2,733.3 559.2,718.9" fill="#8a3f15" stroke="#2a1206" stroke-width="0.8" stroke-linejoin="round"/>
<polyline points="560.6,707.1 583.7,727.5" fill="none" stroke="#d56a24" stroke-width="2" stroke-linejoin="round" stroke-linecap="round"/>
<polyline points="569.3,713.1 582.2,724.6" fill="none" stroke="#c9601f" stroke-width="1.5" stroke-linejoin="round" stroke-linecap="round"/>
<ellipse cx="531.9" cy="714.6" rx="2" ry="2.6" fill="#c9601f" stroke="#2a1206" stroke-width="0.7"/>
<ellipse cx="531.9" cy="723.9" rx="2" ry="2.6" fill="#c9601f" stroke="#2a1206" stroke-width="0.7"/>
<ellipse cx="534.8" cy="733.3" rx="4.4" ry="4.8" fill="#1d1d1d" stroke="#050505" stroke-width="0.8"/>
<ellipse cx="535.1" cy="732.5" rx="2.2" ry="2.2" fill="#b0b0b0"/>
<polygon points="575,741.9 608.1,713.1 613.8,717.4 616.7,739 589.4,744.8 575,759.1" fill="#8a3f15" stroke="#2a1206" stroke-width="0.9" stroke-linejoin="round"/>
<polyline points="575.5,741.9 608.1,713.6" fill="none" stroke="#d56a24" stroke-width="2.2" stroke-linejoin="round" stroke-linecap="round"/>
<polyline points="575.9,743.3 575.9,757.7" fill="none" stroke="#c9601f" stroke-width="1.6" stroke-linejoin="round" stroke-linecap="round"/>
<ellipse cx="585.8" cy="745.5" rx="2" ry="2.6" fill="#c9601f" stroke="#2a1206" stroke-width="0.7"/>
<g transform="translate(602.3 774.5) scale(1)">
<path d="M-30.5,-6 C-30,-24 -14,-34 4,-32.5 C20,-31 31.5,-18 31.5,0 C31.5,19 19,33 3,33 C-6,33 -13,30 -19,24 C-27,16 -31,6 -30.5,-6 Z" fill="#1c1c1c" stroke="#0c0c0c" stroke-width="1" stroke-linejoin="round" stroke-linecap="round"/>
<ellipse cx="10" cy="6" rx="17.5" ry="25.5" fill="#0e0e0e" stroke="#050505" stroke-width="1" transform="rotate(14 10 6)"/>
<ellipse cx="11.5" cy="7" rx="13.5" ry="20.5" fill="#252525" stroke="#0a0a0a" stroke-width="0.8" transform="rotate(14 11.5 7)"/>
<line x1="11.5" y1="7" x2="23.5" y2="7" stroke="#0b0b0b" stroke-width="1.6"/>
<line x1="11.5" y1="7" x2="20" y2="20.4" stroke="#0b0b0b" stroke-width="1.6"/>
<line x1="11.5" y1="7" x2="11.5" y2="26" stroke="#0b0b0b" stroke-width="1.6"/>
<line x1="11.5" y1="7" x2="3" y2="20.4" stroke="#0b0b0b" stroke-width="1.6"/>
<line x1="11.5" y1="7" x2="-0.5" y2="7" stroke="#0b0b0b" stroke-width="1.6"/>
<line x1="11.5" y1="7" x2="3" y2="-6.4" stroke="#0b0b0b" stroke-width="1.6"/>
<line x1="11.5" y1="7" x2="11.5" y2="-12" stroke="#0b0b0b" stroke-width="1.6"/>
<line x1="11.5" y1="7" x2="20" y2="-6.4" stroke="#0b0b0b" stroke-width="1.6"/>
<ellipse cx="12" cy="7.5" rx="5.2" ry="7" fill="#1a1a1a" stroke="#000" stroke-width="0.8" transform="rotate(14 12 7.5)"/>
</g>
<ellipse cx="613.5" cy="780.5" rx="3.8" ry="4.2" fill="#262626" stroke="#0a0a0a" stroke-width="0.8"/>
<ellipse cx="614" cy="780" rx="1.7" ry="1.9" fill="#8a8a8a"/>
<polygon points="814,774.2 850.4,779.2 825.3,796" fill="#c8621f" stroke="#2a1206" stroke-width="0.9" stroke-linejoin="round"/>
<polygon points="819,777.4 844.1,781 826.6,792.5" fill="#8a3f15"/>
<polygon points="812.8,813 850.4,776.7 857.9,777.9 858.4,808 850.4,813 820.3,818.5 812.8,825.6" fill="#8a3f15" stroke="#2a1206" stroke-width="0.9" stroke-linejoin="round"/>
<polyline points="813.3,813 850.9,777.2" fill="none" stroke="#d56a24" stroke-width="2.2" stroke-linejoin="round" stroke-linecap="round"/>
<polyline points="814.3,815.5 814.3,824.3" fill="none" stroke="#c9601f" stroke-width="1.6" stroke-linejoin="round" stroke-linecap="round"/>
<ellipse cx="822.8" cy="815" rx="2" ry="2.4" fill="#c9601f" stroke="#2a1206" stroke-width="0.7"/>
<g transform="translate(840 845) scale(1)">
<path d="M-30.5,-6 C-30,-24 -14,-34 4,-32.5 C20,-31 31.5,-18 31.5,0 C31.5,19 19,33 3,33 C-6,33 -13,30 -19,24 C-27,16 -31,6 -30.5,-6 Z" fill="#1c1c1c" stroke="#0c0c0c" stroke-width="1" stroke-linejoin="round" stroke-linecap="round"/>
<ellipse cx="10" cy="6" rx="17.5" ry="25.5" fill="#0e0e0e" stroke="#050505" stroke-width="1" transform="rotate(14 10 6)"/>
<ellipse cx="11.5" cy="7" rx="13.5" ry="20.5" fill="#252525" stroke="#0a0a0a" stroke-width="0.8" transform="rotate(14 11.5 7)"/>
<line x1="11.5" y1="7" x2="23.5" y2="7" stroke="#0b0b0b" stroke-width="1.6"/>
<line x1="11.5" y1="7" x2="20" y2="20.4" stroke="#0b0b0b" stroke-width="1.6"/>
<line x1="11.5" y1="7" x2="11.5" y2="26" stroke="#0b0b0b" stroke-width="1.6"/>
<line x1="11.5" y1="7" x2="3" y2="20.4" stroke="#0b0b0b" stroke-width="1.6"/>
<line x1="11.5" y1="7" x2="-0.5" y2="7" stroke="#0b0b0b" stroke-width="1.6"/>
<line x1="11.5" y1="7" x2="3" y2="-6.4" stroke="#0b0b0b" stroke-width="1.6"/>
<line x1="11.5" y1="7" x2="11.5" y2="-12" stroke="#0b0b0b" stroke-width="1.6"/>
<line x1="11.5" y1="7" x2="20" y2="-6.4" stroke="#0b0b0b" stroke-width="1.6"/>
<ellipse cx="12" cy="7.5" rx="5.2" ry="7" fill="#1a1a1a" stroke="#000" stroke-width="0.8" transform="rotate(14 12 7.5)"/>
</g>
<ellipse cx="850" cy="851" rx="3.8" ry="4.2" fill="#262626" stroke="#0a0a0a" stroke-width="0.8"/>
<ellipse cx="850.5" cy="850.5" rx="1.7" ry="1.9" fill="#8a8a8a"/>
<line x1="85.5" y1="580.5" x2="121.5" y2="600.2" stroke="#161616" stroke-width="6.4" stroke-linecap="round"/>
<line x1="85.5" y1="580.5" x2="121.5" y2="600.2" stroke="#3a3a3a" stroke-width="5.2" stroke-linecap="round"/>
<line x1="85.5" y1="579.3" x2="121.5" y2="599" stroke="#8a8a8a" stroke-width="1.3"/>
<ellipse cx="85.5" cy="580.5" rx="5.04" ry="6.3" fill="#2a2a2a" stroke="#0a0a0a" stroke-width="0.7" transform="rotate(25 85.5 580.5)"/>
<ellipse cx="84.7" cy="580" rx="2.835" ry="3.78" fill="#555" transform="rotate(25 84.7 580)"/>
<g transform="translate(160.2 623.5) scale(1)">
<path d="M-30.5,-6 C-30,-24 -14,-34 4,-32.5 C20,-31 31.5,-18 31.5,0 C31.5,19 19,33 3,33 C-6,33 -13,30 -19,24 C-27,16 -31,6 -30.5,-6 Z" fill="#1c1c1c" stroke="#0c0c0c" stroke-width="1" stroke-linejoin="round" stroke-linecap="round"/>
<ellipse cx="10" cy="6" rx="17.5" ry="25.5" fill="#0e0e0e" stroke="#050505" stroke-width="1" transform="rotate(14 10 6)"/>
<ellipse cx="11.5" cy="7" rx="13.5" ry="20.5" fill="#252525" stroke="#0a0a0a" stroke-width="0.8" transform="rotate(14 11.5 7)"/>
<line x1="11.5" y1="7" x2="23.5" y2="7" stroke="#0b0b0b" stroke-width="1.6"/>
<line x1="11.5" y1="7" x2="20" y2="20.4" stroke="#0b0b0b" stroke-width="1.6"/>
<line x1="11.5" y1="7" x2="11.5" y2="26" stroke="#0b0b0b" stroke-width="1.6"/>
<line x1="11.5" y1="7" x2="3" y2="20.4" stroke="#0b0b0b" stroke-width="1.6"/>
<line x1="11.5" y1="7" x2="-0.5" y2="7" stroke="#0b0b0b" stroke-width="1.6"/>
<line x1="11.5" y1="7" x2="3" y2="-6.4" stroke="#0b0b0b" stroke-width="1.6"/>
<line x1="11.5" y1="7" x2="11.5" y2="-12" stroke="#0b0b0b" stroke-width="1.6"/>
<line x1="11.5" y1="7" x2="20" y2="-6.4" stroke="#0b0b0b" stroke-width="1.6"/>
<ellipse cx="12" cy="7.5" rx="5.2" ry="7" fill="#1a1a1a" stroke="#000" stroke-width="0.8" transform="rotate(14 12 7.5)"/>
</g>
<ellipse cx="198.6" cy="647.2" rx="5.6" ry="8.2" fill="#3c3c3c" transform="rotate(20 198.6 647.2)"/>
<ellipse cx="198.6" cy="646.2" rx="5.6" ry="8.2" fill="#4a4a4a" stroke="#1c1c1c" stroke-width="0.8" transform="rotate(20 198.6 646.2)"/>
<ellipse cx="198.6" cy="646.2" rx="1.904" ry="3.116" fill="#f2f2f2" stroke="#1c1c1c" stroke-width="0.7" transform="rotate(20 198.6 646.2)"/>
<ellipse cx="221.8" cy="661.29" rx="5.51" ry="3.42" fill="#1b1b1b" stroke="#0a0a0a" stroke-width="0.6"/>
<polygon points="217.43,657.775 219.52,655.4 224.08,655.4 226.17,657.775 225.98,661.575 217.62,661.575" fill="#2c2c2c" stroke="#0a0a0a" stroke-width="0.6" stroke-linejoin="round"/>
<ellipse cx="221.8" cy="657.3" rx="2.47" ry="1.425" fill="#6a6a6a" stroke="#111" stroke-width="0.5"/>
<line x1="274" y1="642.5" x2="309.5" y2="662.5" stroke="#161616" stroke-width="6.4" stroke-linecap="round"/>
<line x1="274" y1="642.5" x2="309.5" y2="662.5" stroke="#3a3a3a" stroke-width="5.2" stroke-linecap="round"/>
<line x1="274" y1="641.3" x2="309.5" y2="661.3" stroke="#8a8a8a" stroke-width="1.3"/>
<ellipse cx="274" cy="642.5" rx="4.48" ry="5.6" fill="#2a2a2a" stroke="#0a0a0a" stroke-width="0.7" transform="rotate(25 274 642.5)"/>
<ellipse cx="273.2" cy="642" rx="2.52" ry="3.36" fill="#555" transform="rotate(25 273.2 642)"/>
<line x1="164.5" y1="695.8" x2="200" y2="715.6" stroke="#161616" stroke-width="6.4" stroke-linecap="round"/>
<line x1="164.5" y1="695.8" x2="200" y2="715.6" stroke="#3a3a3a" stroke-width="5.2" stroke-linecap="round"/>
<line x1="164.5" y1="694.6" x2="200" y2="714.4" stroke="#8a8a8a" stroke-width="1.3"/>
<ellipse cx="164.5" cy="695.8" rx="4.48" ry="5.6" fill="#2a2a2a" stroke="#0a0a0a" stroke-width="0.7" transform="rotate(25 164.5 695.8)"/>
<ellipse cx="163.7" cy="695.3" rx="2.52" ry="3.36" fill="#555" transform="rotate(25 163.7 695.3)"/>
<line x1="234" y1="722.5" x2="328" y2="676" stroke="#0c0c0c" stroke-width="12.5" stroke-linecap="butt"/>
<line x1="238" y1="716" x2="326" y2="672.5" stroke="#3a3a3a" stroke-width="2"/>
<polygon points="318.1,667.9 326.9,662.9 347,672.9 348.2,682.9 338.2,691.7 323.2,682.9" fill="#151515" stroke="#050505" stroke-width="0.8" stroke-linejoin="round"/>
<ellipse cx="339.4" cy="680.4" rx="7.4" ry="9.6" fill="#1e1e1e" stroke="#050505" stroke-width="0.8" transform="rotate(20 339.4 680.4)"/>
<ellipse cx="340.7" cy="680.4" rx="2.4" ry="3.2" fill="#ddd" stroke="#111" stroke-width="0.6" transform="rotate(20 340.7 680.4)"/>
<polygon points="207.9,720.5 217.9,715.5 236.7,725.5 238.4,735.5 230.4,744.3 210.4,733" fill="#151515" stroke="#050505" stroke-width="0.8" stroke-linejoin="round"/>
<ellipse cx="230.4" cy="734.3" rx="7.4" ry="9.6" fill="#1e1e1e" stroke="#050505" stroke-width="0.8" transform="rotate(20 230.4 734.3)"/>
<ellipse cx="231.7" cy="735" rx="2.4" ry="3.2" fill="#ddd" stroke="#111" stroke-width="0.6" transform="rotate(20 231.7 735)"/>
<ellipse cx="366.3" cy="697.69" rx="5.51" ry="3.42" fill="#1b1b1b" stroke="#0a0a0a" stroke-width="0.6"/>
<polygon points="361.93,694.175 364.02,691.8 368.58,691.8 370.67,694.175 370.48,697.975 362.12,697.975" fill="#2c2c2c" stroke="#0a0a0a" stroke-width="0.6" stroke-linejoin="round"/>
<ellipse cx="366.3" cy="693.7" rx="2.47" ry="1.425" fill="#6a6a6a" stroke="#111" stroke-width="0.5"/>
<ellipse cx="256.8" cy="751.49" rx="5.51" ry="3.42" fill="#1b1b1b" stroke="#0a0a0a" stroke-width="0.6"/>
<polygon points="252.43,747.975 254.52,745.6 259.08,745.6 261.17,747.975 260.98,751.775 252.62,751.775" fill="#2c2c2c" stroke="#0a0a0a" stroke-width="0.6" stroke-linejoin="round"/>
<ellipse cx="256.8" cy="747.5" rx="2.47" ry="1.425" fill="#6a6a6a" stroke="#111" stroke-width="0.5"/>
<line x1="654.5" y1="840.8" x2="690.5" y2="860.6" stroke="#161616" stroke-width="6.4" stroke-linecap="round"/>
<line x1="654.5" y1="840.8" x2="690.5" y2="860.6" stroke="#3a3a3a" stroke-width="5.2" stroke-linecap="round"/>
<line x1="654.5" y1="839.6" x2="690.5" y2="859.4" stroke="#8a8a8a" stroke-width="1.3"/>
<ellipse cx="654.5" cy="840.8" rx="5.04" ry="6.3" fill="#2a2a2a" stroke="#0a0a0a" stroke-width="0.7" transform="rotate(25 654.5 840.8)"/>
<ellipse cx="653.7" cy="840.3" rx="2.835" ry="3.78" fill="#555" transform="rotate(25 653.7 840.3)"/>
<g transform="translate(725 881.2) scale(1)">
<path d="M-30.5,-6 C-30,-24 -14,-34 4,-32.5 C20,-31 31.5,-18 31.5,0 C31.5,19 19,33 3,33 C-6,33 -13,30 -19,24 C-27,16 -31,6 -30.5,-6 Z" fill="#1c1c1c" stroke="#0c0c0c" stroke-width="1" stroke-linejoin="round" stroke-linecap="round"/>
<ellipse cx="10" cy="6" rx="17.5" ry="25.5" fill="#0e0e0e" stroke="#050505" stroke-width="1" transform="rotate(14 10 6)"/>
<ellipse cx="11.5" cy="7" rx="13.5" ry="20.5" fill="#252525" stroke="#0a0a0a" stroke-width="0.8" transform="rotate(14 11.5 7)"/>
<line x1="11.5" y1="7" x2="23.5" y2="7" stroke="#0b0b0b" stroke-width="1.6"/>
<line x1="11.5" y1="7" x2="20" y2="20.4" stroke="#0b0b0b" stroke-width="1.6"/>
<line x1="11.5" y1="7" x2="11.5" y2="26" stroke="#0b0b0b" stroke-width="1.6"/>
<line x1="11.5" y1="7" x2="3" y2="20.4" stroke="#0b0b0b" stroke-width="1.6"/>
<line x1="11.5" y1="7" x2="-0.5" y2="7" stroke="#0b0b0b" stroke-width="1.6"/>
<line x1="11.5" y1="7" x2="3" y2="-6.4" stroke="#0b0b0b" stroke-width="1.6"/>
<line x1="11.5" y1="7" x2="11.5" y2="-12" stroke="#0b0b0b" stroke-width="1.6"/>
<line x1="11.5" y1="7" x2="20" y2="-6.4" stroke="#0b0b0b" stroke-width="1.6"/>
<ellipse cx="12" cy="7.5" rx="5.2" ry="7" fill="#1a1a1a" stroke="#000" stroke-width="0.8" transform="rotate(14 12 7.5)"/>
</g>
<ellipse cx="760" cy="902" rx="6.4" ry="8.6" fill="#3c3c3c" transform="rotate(25 760 902)"/>
<ellipse cx="760" cy="901" rx="6.4" ry="8.6" fill="#3c3c3c" stroke="#1c1c1c" stroke-width="0.8" transform="rotate(25 760 901)"/>
<ellipse cx="760" cy="901" rx="2.176" ry="3.268" fill="#f2f2f2" stroke="#1c1c1c" stroke-width="0.7" transform="rotate(25 760 901)"/>
<ellipse cx="778" cy="912.89" rx="5.51" ry="3.42" fill="#1b1b1b" stroke="#0a0a0a" stroke-width="0.6"/>
<polygon points="773.63,909.375 775.72,907 780.28,907 782.37,909.375 782.18,913.175 773.82,913.175" fill="#2c2c2c" stroke="#0a0a0a" stroke-width="0.6" stroke-linejoin="round"/>
<ellipse cx="778" cy="908.9" rx="2.47" ry="1.425" fill="#6a6a6a" stroke="#111" stroke-width="0.5"/>
<rect x="768.25" y="63.5" width="9.5" height="26.5" rx="1" fill="#2f2f2f" stroke="#0f0f0f" stroke-width="0.6"/>
<rect x="769.25" y="64.5" width="1.4" height="24.5" rx="0" fill="#6a6a6a"/>
<rect x="765.75" y="56.5" width="14.5" height="8" rx="2" fill="#3a3a3a" stroke="#0f0f0f" stroke-width="0.6"/>
<ellipse cx="773" cy="58.1" rx="6.25" ry="1.6" fill="#8a8a8a"/>
<g transform="translate(812 148.5) scale(1.1) translate(-812 -148.5)">
<ellipse cx="812" cy="166" rx="38.6" ry="21.2" fill="#858585" stroke="#151515" stroke-width="1.3"/>
<ellipse cx="812" cy="162" rx="36.5" ry="19.6" fill="#3f3f3f" stroke="#1a1a1a" stroke-width="0.8"/>
<rect x="778.5" y="150.5" width="67" height="11" rx="0" fill="#3f3f3f"/>
<ellipse cx="812" cy="148.5" rx="38.6" ry="21.5" fill="#8a8a8a" stroke="#131313" stroke-width="1.6"/>
<ellipse cx="812" cy="149.5" rx="34.5" ry="18.6" fill="#3f3f3f" stroke="#1a1a1a" stroke-width="1"/>
<ellipse cx="812" cy="152" rx="30.5" ry="15.4" fill="#6e6e6e" stroke="#2a2a2a" stroke-width="0.8"/>
<rect x="788.5" y="142.6" width="11" height="4.8" rx="1.6" fill="#f4f4f4" stroke="#222" stroke-width="0.7" transform="rotate(-22 794 145)"/>
<rect x="827.5" y="149.1" width="11" height="4.8" rx="1.6" fill="#f4f4f4" stroke="#222" stroke-width="0.7" transform="rotate(28 833 151.5)"/>
<rect x="785.5" y="155.6" width="11" height="4.8" rx="1.6" fill="#f4f4f4" stroke="#222" stroke-width="0.7" transform="rotate(28 791 158)"/>
<rect x="820" y="160.6" width="11" height="4.8" rx="1.6" fill="#f4f4f4" stroke="#222" stroke-width="0.7" transform="rotate(-20 825.5 163)"/>
<ellipse cx="812" cy="152" rx="13.5" ry="7.4" fill="#595959" stroke="#2a2a2a" stroke-width="0.8"/>
<ellipse cx="823" cy="152" rx="1.5" ry="1.1" fill="#b0b0b0" stroke="#333" stroke-width="0.4"/>
<ellipse cx="817.5" cy="157.2" rx="1.5" ry="1.1" fill="#b0b0b0" stroke="#333" stroke-width="0.4"/>
<ellipse cx="806.5" cy="157.2" rx="1.5" ry="1.1" fill="#b0b0b0" stroke="#333" stroke-width="0.4"/>
<ellipse cx="801" cy="152" rx="1.5" ry="1.1" fill="#b0b0b0" stroke="#333" stroke-width="0.4"/>
<ellipse cx="806.5" cy="146.8" rx="1.5" ry="1.1" fill="#b0b0b0" stroke="#333" stroke-width="0.4"/>
<ellipse cx="817.5" cy="146.8" rx="1.5" ry="1.1" fill="#b0b0b0" stroke="#333" stroke-width="0.4"/>
<ellipse cx="812" cy="151" rx="6.2" ry="3.8" fill="#3a3a3a" stroke="#111" stroke-width="0.7"/>
<rect x="807.8" y="144" width="8.4" height="7" rx="0" fill="#333"/>
<ellipse cx="812" cy="144" rx="4.2" ry="2.5" fill="#6a6a6a" stroke="#111" stroke-width="0.6"/>
</g>
<polygon points="761.8,111.5 768,105.2 779.3,106.5 785.6,112.7 794.3,124 785.6,131.5 778,127.8 774.3,126.5 763,122.8" fill="#6d6d6d" stroke="#151515" stroke-width="0.9" stroke-linejoin="round"/>
<polygon points="761.8,111.5 763,122.8 770.5,126.5 769.3,116.5" fill="#4a4a4a"/>
<ellipse cx="773.3" cy="111.2" rx="9.5" ry="5.6" fill="#8a8a8a" stroke="#151515" stroke-width="0.8"/>
<ellipse cx="773.3" cy="111.2" rx="5" ry="3" fill="#2d2d3a" stroke="#111" stroke-width="0.6"/>
<polygon points="768,134 775.5,131.5 785.6,135.3 794.3,145.3 790.6,147.8 780.6,140.3 773,139 771.8,150.3 768,147.8" fill="#3a3a3a" stroke="#111" stroke-width="0.8" stroke-linejoin="round"/>
<ellipse cx="774" cy="196.84" rx="6.96" ry="4.32" fill="#1b1b1b" stroke="#0a0a0a" stroke-width="0.6"/>
<polygon points="768.48,192.4 771.12,189.4 776.88,189.4 779.52,192.4 779.28,197.2 768.72,197.2" fill="#2c2c2c" stroke="#0a0a0a" stroke-width="0.6" stroke-linejoin="round"/>
<ellipse cx="774" cy="191.8" rx="3.12" ry="1.8" fill="#6a6a6a" stroke="#111" stroke-width="0.5"/>
<g transform="rotate(-10.2 719.5 152.2)">
<rect x="689" y="144.7" width="61" height="15" rx="4" fill="#8f8f55" stroke="#33331c" stroke-width="0.9"/>
<line x1="692.6" y1="145" x2="691" y2="159.5" stroke="#3e3e22" stroke-width="0.7"/>
<line x1="694.6" y1="145" x2="693" y2="159.5" stroke="#3e3e22" stroke-width="0.7"/>
<line x1="696.6" y1="145" x2="695" y2="159.5" stroke="#3e3e22" stroke-width="0.7"/>
<line x1="698.6" y1="145" x2="697" y2="159.5" stroke="#3e3e22" stroke-width="0.7"/>
<line x1="700.6" y1="145" x2="699" y2="159.5" stroke="#3e3e22" stroke-width="0.7"/>
<line x1="702.6" y1="145" x2="701" y2="159.5" stroke="#3e3e22" stroke-width="0.7"/>
<line x1="704.6" y1="145" x2="703" y2="159.5" stroke="#3e3e22" stroke-width="0.7"/>
<line x1="706.6" y1="145" x2="705" y2="159.5" stroke="#3e3e22" stroke-width="0.7"/>
<line x1="708.6" y1="145" x2="707" y2="159.5" stroke="#3e3e22" stroke-width="0.7"/>
<line x1="710.6" y1="145" x2="709" y2="159.5" stroke="#3e3e22" stroke-width="0.7"/>
<line x1="712.6" y1="145" x2="711" y2="159.5" stroke="#3e3e22" stroke-width="0.7"/>
<line x1="714.6" y1="145" x2="713" y2="159.5" stroke="#3e3e22" stroke-width="0.7"/>
<line x1="716.6" y1="145" x2="715" y2="159.5" stroke="#3e3e22" stroke-width="0.7"/>
<line x1="718.6" y1="145" x2="717" y2="159.5" stroke="#3e3e22" stroke-width="0.7"/>
<line x1="720.6" y1="145" x2="719" y2="159.5" stroke="#3e3e22" stroke-width="0.7"/>
<line x1="722.6" y1="145" x2="721" y2="159.5" stroke="#3e3e22" stroke-width="0.7"/>
<line x1="724.6" y1="145" x2="723" y2="159.5" stroke="#3e3e22" stroke-width="0.7"/>
<line x1="726.6" y1="145" x2="725" y2="159.5" stroke="#3e3e22" stroke-width="0.7"/>
<line x1="728.6" y1="145" x2="727" y2="159.5" stroke="#3e3e22" stroke-width="0.7"/>
<line x1="730.6" y1="145" x2="729" y2="159.5" stroke="#3e3e22" stroke-width="0.7"/>
<line x1="732.6" y1="145" x2="731" y2="159.5" stroke="#3e3e22" stroke-width="0.7"/>
<line x1="734.6" y1="145" x2="733" y2="159.5" stroke="#3e3e22" stroke-width="0.7"/>
<line x1="736.6" y1="145" x2="735" y2="159.5" stroke="#3e3e22" stroke-width="0.7"/>
<line x1="738.6" y1="145" x2="737" y2="159.5" stroke="#3e3e22" stroke-width="0.7"/>
<line x1="740.6" y1="145" x2="739" y2="159.5" stroke="#3e3e22" stroke-width="0.7"/>
<line x1="742.6" y1="145" x2="741" y2="159.5" stroke="#3e3e22" stroke-width="0.7"/>
<line x1="744.6" y1="145" x2="743" y2="159.5" stroke="#3e3e22" stroke-width="0.7"/>
<line x1="746.6" y1="145" x2="745" y2="159.5" stroke="#3e3e22" stroke-width="0.7"/>
<line x1="748.6" y1="145" x2="747" y2="159.5" stroke="#3e3e22" stroke-width="0.7"/>
<line x1="750.6" y1="145" x2="749" y2="159.5" stroke="#3e3e22" stroke-width="0.7"/>
<rect x="691" y="147.5" width="57" height="2.2" rx="0" fill="#b9b97a"/>
</g>
<path d="M690,160 q-5,5 -9,2 q-5,-4 -2,-8 q3,-3 6,0" fill="none" stroke="#6b6b3a" stroke-width="1.8" stroke-linejoin="round" stroke-linecap="round"/>
<path d="M749,146 q6,0 9,-3 q3,-5 -2,-7 q-4,-1 -6,1" fill="none" stroke="#6b6b3a" stroke-width="1.8" stroke-linejoin="round" stroke-linecap="round"/>
<line x1="633.5" y1="171" x2="670.5" y2="165.2" stroke="#0a0a0a" stroke-width="7" stroke-linecap="round"/>
<line x1="633.5" y1="171" x2="670.5" y2="165.2" stroke="#2c2c2c" stroke-width="5.4" stroke-linecap="round"/>
<line x1="634" y1="169.4" x2="668" y2="164" stroke="#555" stroke-width="1.2"/>
<rect x="603.8" y="170" width="8.4" height="10.8" rx="3" fill="#262626" stroke="#0a0a0a" stroke-width="0.7"/>
<rect x="605.4" y="171.2" width="2" height="8" rx="0" fill="#4a4a4a"/>
<rect x="619.6" y="167.8" width="8.4" height="10.8" rx="3" fill="#262626" stroke="#0a0a0a" stroke-width="0.7"/>
<rect x="621.2" y="169" width="2" height="8" rx="0" fill="#4a4a4a"/>
<ellipse cx="728.6" cy="259.81" rx="6.09" ry="3.78" fill="#1b1b1b" stroke="#0a0a0a" stroke-width="0.6"/>
<polygon points="723.77,255.925 726.08,253.3 731.12,253.3 733.43,255.925 733.22,260.125 723.98,260.125" fill="#2c2c2c" stroke="#0a0a0a" stroke-width="0.6" stroke-linejoin="round"/>
<ellipse cx="728.6" cy="255.4" rx="2.73" ry="1.575" fill="#6a6a6a" stroke="#111" stroke-width="0.5"/>
<ellipse cx="729.8" cy="312.1" rx="38.6" ry="21.2" fill="#858585" stroke="#151515" stroke-width="1.3"/>
<ellipse cx="729.8" cy="308.1" rx="36.5" ry="19.6" fill="#3f3f3f" stroke="#1a1a1a" stroke-width="0.8"/>
<rect x="696.3" y="296.6" width="67" height="11" rx="0" fill="#3f3f3f"/>
<ellipse cx="729.8" cy="294.6" rx="38.6" ry="21.5" fill="#8a8a8a" stroke="#131313" stroke-width="1.6"/>
<ellipse cx="729.8" cy="295.6" rx="34.5" ry="18.6" fill="#3f3f3f" stroke="#1a1a1a" stroke-width="1"/>
<ellipse cx="729.8" cy="298.1" rx="30.5" ry="15.4" fill="#6e6e6e" stroke="#2a2a2a" stroke-width="0.8"/>
<rect x="706.3" y="288.7" width="11" height="4.8" rx="1.6" fill="#f4f4f4" stroke="#222" stroke-width="0.7" transform="rotate(-22 711.8 291.1)"/>
<rect x="745.3" y="295.2" width="11" height="4.8" rx="1.6" fill="#f4f4f4" stroke="#222" stroke-width="0.7" transform="rotate(28 750.8 297.6)"/>
<rect x="703.3" y="301.7" width="11" height="4.8" rx="1.6" fill="#f4f4f4" stroke="#222" stroke-width="0.7" transform="rotate(28 708.8 304.1)"/>
<rect x="737.8" y="306.7" width="11" height="4.8" rx="1.6" fill="#f4f4f4" stroke="#222" stroke-width="0.7" transform="rotate(-20 743.3 309.1)"/>
<ellipse cx="729.8" cy="298.1" rx="13.5" ry="7.4" fill="#595959" stroke="#2a2a2a" stroke-width="0.8"/>
<ellipse cx="740.8" cy="298.1" rx="1.5" ry="1.1" fill="#b0b0b0" stroke="#333" stroke-width="0.4"/>
<ellipse cx="735.3" cy="303.3" rx="1.5" ry="1.1" fill="#b0b0b0" stroke="#333" stroke-width="0.4"/>
<ellipse cx="724.3" cy="303.3" rx="1.5" ry="1.1" fill="#b0b0b0" stroke="#333" stroke-width="0.4"/>
<ellipse cx="718.8" cy="298.1" rx="1.5" ry="1.1" fill="#b0b0b0" stroke="#333" stroke-width="0.4"/>
<ellipse cx="724.3" cy="292.9" rx="1.5" ry="1.1" fill="#b0b0b0" stroke="#333" stroke-width="0.4"/>
<ellipse cx="735.3" cy="292.9" rx="1.5" ry="1.1" fill="#b0b0b0" stroke="#333" stroke-width="0.4"/>
<ellipse cx="729.8" cy="297.1" rx="6.2" ry="3.8" fill="#3a3a3a" stroke="#111" stroke-width="0.7"/>
<rect x="725.6" y="290.1" width="8.4" height="7" rx="0" fill="#333"/>
<ellipse cx="729.8" cy="290.1" rx="4.2" ry="2.5" fill="#6a6a6a" stroke="#111" stroke-width="0.6"/>
<rect x="723.2" y="339" width="14" height="22" rx="0" fill="#4a4a4a" stroke="#151515" stroke-width="0.7"/>
<ellipse cx="730.2" cy="361" rx="7" ry="2.6" fill="#3a3a3a" stroke="#151515" stroke-width="0.7"/>
<rect x="723.7" y="339" width="13" height="22" rx="0" fill="#4a4a4a"/>
<rect x="725.2" y="341" width="2.4" height="20" rx="0" fill="#6c6c6c"/>
<ellipse cx="730.2" cy="339" rx="7" ry="3.2" fill="#6f6f6f" stroke="#151515" stroke-width="0.7"/>
<ellipse cx="730.2" cy="339" rx="3" ry="1.5" fill="#2a2a2a"/>
<rect x="727.4" y="370" width="6.4" height="45" rx="1" fill="#2f2f2f" stroke="#0f0f0f" stroke-width="0.6"/>
<rect x="728.4" y="371" width="1.4" height="43" rx="0" fill="#6a6a6a"/>
<ellipse cx="730.6" cy="371" rx="2.6" ry="1.2" fill="#777"/>
<rect x="724.85" y="414" width="11.5" height="6.5" rx="2" fill="#262626" stroke="#0a0a0a" stroke-width="0.6"/>
<ellipse cx="839.8" cy="287.91" rx="6.09" ry="3.78" fill="#1b1b1b" stroke="#0a0a0a" stroke-width="0.6"/>
<polygon points="834.97,284.025 837.28,281.4 842.32,281.4 844.63,284.025 844.42,288.225 835.18,288.225" fill="#2c2c2c" stroke="#0a0a0a" stroke-width="0.6" stroke-linejoin="round"/>
<ellipse cx="839.8" cy="283.5" rx="2.73" ry="1.575" fill="#6a6a6a" stroke="#111" stroke-width="0.5"/>
<ellipse cx="841" cy="343.1" rx="38.6" ry="21.2" fill="#858585" stroke="#151515" stroke-width="1.3"/>
<ellipse cx="841" cy="339.1" rx="36.5" ry="19.6" fill="#3f3f3f" stroke="#1a1a1a" stroke-width="0.8"/>
<rect x="807.5" y="327.6" width="67" height="11" rx="0" fill="#3f3f3f"/>
<ellipse cx="841" cy="325.6" rx="38.6" ry="21.5" fill="#8a8a8a" stroke="#131313" stroke-width="1.6"/>
<ellipse cx="841" cy="326.6" rx="34.5" ry="18.6" fill="#3f3f3f" stroke="#1a1a1a" stroke-width="1"/>
<ellipse cx="841" cy="329.1" rx="30.5" ry="15.4" fill="#6e6e6e" stroke="#2a2a2a" stroke-width="0.8"/>
<rect x="817.5" y="319.7" width="11" height="4.8" rx="1.6" fill="#f4f4f4" stroke="#222" stroke-width="0.7" transform="rotate(-22 823 322.1)"/>
<rect x="856.5" y="326.2" width="11" height="4.8" rx="1.6" fill="#f4f4f4" stroke="#222" stroke-width="0.7" transform="rotate(28 862 328.6)"/>
<rect x="814.5" y="332.7" width="11" height="4.8" rx="1.6" fill="#f4f4f4" stroke="#222" stroke-width="0.7" transform="rotate(28 820 335.1)"/>
<rect x="849" y="337.7" width="11" height="4.8" rx="1.6" fill="#f4f4f4" stroke="#222" stroke-width="0.7" transform="rotate(-20 854.5 340.1)"/>
<ellipse cx="841" cy="329.1" rx="13.5" ry="7.4" fill="#595959" stroke="#2a2a2a" stroke-width="0.8"/>
<ellipse cx="852" cy="329.1" rx="1.5" ry="1.1" fill="#b0b0b0" stroke="#333" stroke-width="0.4"/>
<ellipse cx="846.5" cy="334.3" rx="1.5" ry="1.1" fill="#b0b0b0" stroke="#333" stroke-width="0.4"/>
<ellipse cx="835.5" cy="334.3" rx="1.5" ry="1.1" fill="#b0b0b0" stroke="#333" stroke-width="0.4"/>
<ellipse cx="830" cy="329.1" rx="1.5" ry="1.1" fill="#b0b0b0" stroke="#333" stroke-width="0.4"/>
<ellipse cx="835.5" cy="323.9" rx="1.5" ry="1.1" fill="#b0b0b0" stroke="#333" stroke-width="0.4"/>
<ellipse cx="846.5" cy="323.9" rx="1.5" ry="1.1" fill="#b0b0b0" stroke="#333" stroke-width="0.4"/>
<ellipse cx="841" cy="328.1" rx="6.2" ry="3.8" fill="#3a3a3a" stroke="#111" stroke-width="0.7"/>
<rect x="836.8" y="321.1" width="8.4" height="7" rx="0" fill="#333"/>
<ellipse cx="841" cy="321.1" rx="4.2" ry="2.5" fill="#6a6a6a" stroke="#111" stroke-width="0.6"/>
<rect x="834.25" y="369.5" width="14.5" height="19" rx="0" fill="#4a4a4a" stroke="#151515" stroke-width="0.7"/>
<ellipse cx="841.5" cy="388.5" rx="7.25" ry="2.6" fill="#3a3a3a" stroke="#151515" stroke-width="0.7"/>
<rect x="834.75" y="369.5" width="13.5" height="19" rx="0" fill="#4a4a4a"/>
<rect x="836.25" y="371.5" width="2.4" height="17" rx="0" fill="#6c6c6c"/>
<ellipse cx="841.5" cy="369.5" rx="7.25" ry="3.2" fill="#6f6f6f" stroke="#151515" stroke-width="0.7"/>
<ellipse cx="841.5" cy="369.5" rx="3" ry="1.5" fill="#2a2a2a"/>
<rect x="838.8" y="401.5" width="6.4" height="39.5" rx="1" fill="#2f2f2f" stroke="#0f0f0f" stroke-width="0.6"/>
<rect x="839.8" y="402.5" width="1.4" height="37.5" rx="0" fill="#6a6a6a"/>
<ellipse cx="842" cy="402.5" rx="2.6" ry="1.2" fill="#777"/>
<rect x="835.75" y="440" width="12.5" height="8" rx="2" fill="#262626" stroke="#0a0a0a" stroke-width="0.6"/>
<rect x="953.6" y="282" width="6" height="18.5" rx="1" fill="#2f2f2f" stroke="#0f0f0f" stroke-width="0.6"/>
<rect x="954.6" y="283" width="1.4" height="16.5" rx="0" fill="#6a6a6a"/>
<rect x="951.35" y="276.5" width="10.5" height="6.5" rx="2" fill="#3a3a3a" stroke="#0f0f0f" stroke-width="0.6"/>
<ellipse cx="956.6" cy="278.1" rx="4.25" ry="1.6" fill="#8a8a8a"/>
<ellipse cx="957" cy="314.2" rx="6" ry="3.4" fill="#3c3c3c"/>
<ellipse cx="957" cy="313.2" rx="6" ry="3.4" fill="#6a6a6a" stroke="#1c1c1c" stroke-width="0.8"/>
<ellipse cx="957" cy="313.2" rx="2.04" ry="1.292" fill="#f2f2f2" stroke="#1c1c1c" stroke-width="0.7"/>
<ellipse cx="957" cy="330.6" rx="10.8" ry="5.8" fill="#3c3c3c"/>
<ellipse cx="957" cy="329.6" rx="10.8" ry="5.8" fill="#7a7a7a" stroke="#1c1c1c" stroke-width="0.8"/>
<ellipse cx="957" cy="329.6" rx="3.672" ry="2.204" fill="#f2f2f2" stroke="#1c1c1c" stroke-width="0.7"/>
<rect x="980.6" y="342.8" width="3.2" height="13" rx="0" fill="#262626" stroke="#0a0a0a" stroke-width="0.5"/>
<ellipse cx="957.8" cy="389.5" rx="35.8" ry="20.2" fill="#232323" stroke="#0a0a0a" stroke-width="1"/>
<rect x="922" y="380" width="71.6" height="9.5" rx="0" fill="#232323"/>
<ellipse cx="957.8" cy="380" rx="35.8" ry="20.2" fill="#3b3b3b" stroke="#0a0a0a" stroke-width="1.4"/>
<ellipse cx="957.8" cy="381.5" rx="25.5" ry="14" fill="#303030" stroke="#141414" stroke-width="1"/>
<ellipse cx="957.8" cy="384" rx="13" ry="7.2" fill="#1c1c1c"/>
<rect x="944.8" y="376" width="26" height="8" rx="0" fill="#242424"/>
<ellipse cx="957.8" cy="376" rx="13" ry="7.2" fill="#3a3a3a" stroke="#111" stroke-width="0.7"/>
<ellipse cx="957.8" cy="376" rx="6" ry="3.4" fill="#1a1a1a"/>
<ellipse cx="917" cy="406.8" rx="2.1" ry="2.1" fill="#0c0c0c"/>
<rect x="1018" y="401" width="5.6" height="62" rx="1" fill="#2f2f2f" stroke="#0f0f0f" stroke-width="0.6"/>
<rect x="1019" y="402" width="1.4" height="60" rx="0" fill="#6a6a6a"/>
<rect x="1016.05" y="396.5" width="9.5" height="5.5" rx="2" fill="#3a3a3a" stroke="#0f0f0f" stroke-width="0.6"/>
<ellipse cx="1020.8" cy="398.1" rx="3.75" ry="1.6" fill="#8a8a8a"/>
<ellipse cx="1021.2" cy="476.98" rx="5.22" ry="3.24" fill="#1b1b1b" stroke="#0a0a0a" stroke-width="0.6"/>
<polygon points="1017.06,473.65 1019.04,471.4 1023.36,471.4 1025.34,473.65 1025.16,477.25 1017.24,477.25" fill="#2c2c2c" stroke="#0a0a0a" stroke-width="0.6" stroke-linejoin="round"/>
<ellipse cx="1021.2" cy="473.2" rx="2.34" ry="1.35" fill="#6a6a6a" stroke="#111" stroke-width="0.5"/>
<ellipse cx="1021.2" cy="494.98" rx="5.22" ry="3.24" fill="#1b1b1b" stroke="#0a0a0a" stroke-width="0.6"/>
<polygon points="1017.06,491.65 1019.04,489.4 1023.36,489.4 1025.34,491.65 1025.16,495.25 1017.24,495.25" fill="#2c2c2c" stroke="#0a0a0a" stroke-width="0.6" stroke-linejoin="round"/>
<ellipse cx="1021.2" cy="491.2" rx="2.34" ry="1.35" fill="#6a6a6a" stroke="#111" stroke-width="0.5"/>
<ellipse cx="878.4" cy="547.59" rx="5.51" ry="3.42" fill="#1b1b1b" stroke="#0a0a0a" stroke-width="0.6"/>
<polygon points="874.03,544.075 876.12,541.7 880.68,541.7 882.77,544.075 882.58,547.875 874.22,547.875" fill="#2c2c2c" stroke="#0a0a0a" stroke-width="0.6" stroke-linejoin="round"/>
<ellipse cx="878.4" cy="543.6" rx="2.47" ry="1.425" fill="#6a6a6a" stroke="#111" stroke-width="0.5"/>
<ellipse cx="909" cy="530.09" rx="5.51" ry="3.42" fill="#1b1b1b" stroke="#0a0a0a" stroke-width="0.6"/>
<polygon points="904.63,526.575 906.72,524.2 911.28,524.2 913.37,526.575 913.18,530.375 904.82,530.375" fill="#2c2c2c" stroke="#0a0a0a" stroke-width="0.6" stroke-linejoin="round"/>
<ellipse cx="909" cy="526.1" rx="2.47" ry="1.425" fill="#6a6a6a" stroke="#111" stroke-width="0.5"/>
<ellipse cx="939.8" cy="547.59" rx="5.51" ry="3.42" fill="#1b1b1b" stroke="#0a0a0a" stroke-width="0.6"/>
<polygon points="935.43,544.075 937.52,541.7 942.08,541.7 944.17,544.075 943.98,547.875 935.62,547.875" fill="#2c2c2c" stroke="#0a0a0a" stroke-width="0.6" stroke-linejoin="round"/>
<ellipse cx="939.8" cy="543.6" rx="2.47" ry="1.425" fill="#6a6a6a" stroke="#111" stroke-width="0.5"/>
<ellipse cx="909" cy="565.69" rx="5.51" ry="3.42" fill="#1b1b1b" stroke="#0a0a0a" stroke-width="0.6"/>
<polygon points="904.63,562.175 906.72,559.8 911.28,559.8 913.37,562.175 913.18,565.975 904.82,565.975" fill="#2c2c2c" stroke="#0a0a0a" stroke-width="0.6" stroke-linejoin="round"/>
<ellipse cx="909" cy="561.7" rx="2.47" ry="1.425" fill="#6a6a6a" stroke="#111" stroke-width="0.5"/>
<rect x="1073.2" y="459" width="14.6" height="66.5" rx="6" fill="#1b1b1b" stroke="#050505" stroke-width="0.9"/>
<rect x="1075.8" y="464" width="2" height="56" rx="0" fill="#3a3a3a"/>
<ellipse cx="1089.5" cy="472.3" rx="5.2" ry="5.6" fill="#262626" stroke="#050505" stroke-width="0.8"/>
<ellipse cx="1091" cy="472.3" rx="2.8" ry="3" fill="#6a6a6a" stroke="#111" stroke-width="0.6"/>
<ellipse cx="1089.5" cy="522.5" rx="5.2" ry="5.6" fill="#262626" stroke="#050505" stroke-width="0.8"/>
<ellipse cx="1091" cy="522.5" rx="2.8" ry="3" fill="#6a6a6a" stroke="#111" stroke-width="0.6"/>
<rect x="291.1" y="201" width="5" height="9" rx="1" fill="#2f2f2f" stroke="#0f0f0f" stroke-width="0.6"/>
<rect x="292.1" y="202" width="1.4" height="7" rx="0" fill="#6a6a6a"/>
<rect x="289.1" y="196.5" width="9" height="5.5" rx="2" fill="#3a3a3a" stroke="#0f0f0f" stroke-width="0.6"/>
<ellipse cx="293.6" cy="198.1" rx="3.5" ry="1.6" fill="#8a8a8a"/>
<rect x="349" y="201.5" width="5" height="9" rx="1" fill="#2f2f2f" stroke="#0f0f0f" stroke-width="0.6"/>
<rect x="350" y="202.5" width="1.4" height="7" rx="0" fill="#6a6a6a"/>
<rect x="347" y="197" width="9" height="5.5" rx="2" fill="#3a3a3a" stroke="#0f0f0f" stroke-width="0.6"/>
<ellipse cx="351.5" cy="198.6" rx="3.5" ry="1.6" fill="#8a8a8a"/>
<rect x="343.1" y="230" width="5" height="9" rx="1" fill="#2f2f2f" stroke="#0f0f0f" stroke-width="0.6"/>
<rect x="344.1" y="231" width="1.4" height="7" rx="0" fill="#6a6a6a"/>
<rect x="341.1" y="225.5" width="9" height="5.5" rx="2" fill="#3a3a3a" stroke="#0f0f0f" stroke-width="0.6"/>
<ellipse cx="345.6" cy="227.1" rx="3.5" ry="1.6" fill="#8a8a8a"/>
<ellipse cx="296" cy="383.18" rx="5.22" ry="3.24" fill="#1b1b1b" stroke="#0a0a0a" stroke-width="0.6"/>
<polygon points="291.86,379.85 293.84,377.6 298.16,377.6 300.14,379.85 299.96,383.45 292.04,383.45" fill="#2c2c2c" stroke="#0a0a0a" stroke-width="0.6" stroke-linejoin="round"/>
<ellipse cx="296" cy="379.4" rx="2.34" ry="1.35" fill="#6a6a6a" stroke="#111" stroke-width="0.5"/>
<ellipse cx="347.4" cy="380.58" rx="5.22" ry="3.24" fill="#1b1b1b" stroke="#0a0a0a" stroke-width="0.6"/>
<polygon points="343.26,377.25 345.24,375 349.56,375 351.54,377.25 351.36,380.85 343.44,380.85" fill="#2c2c2c" stroke="#0a0a0a" stroke-width="0.6" stroke-linejoin="round"/>
<ellipse cx="347.4" cy="376.8" rx="2.34" ry="1.35" fill="#6a6a6a" stroke="#111" stroke-width="0.5"/>
<ellipse cx="373.2" cy="361.58" rx="5.22" ry="3.24" fill="#1b1b1b" stroke="#0a0a0a" stroke-width="0.6"/>
<polygon points="369.06,358.25 371.04,356 375.36,356 377.34,358.25 377.16,361.85 369.24,361.85" fill="#2c2c2c" stroke="#0a0a0a" stroke-width="0.6" stroke-linejoin="round"/>
<ellipse cx="373.2" cy="357.8" rx="2.34" ry="1.35" fill="#6a6a6a" stroke="#111" stroke-width="0.5"/>
<path d="M487.9,253.6 L487.9,248.6 Q488.1,245 491.5,244.8 Q494.9,245 495.1,248.6 L495.1,253.6 Z" fill="#2a2a2a" stroke="#0a0a0a" stroke-width="0.6" stroke-linejoin="round" stroke-linecap="round"/>
<ellipse cx="491" cy="247.1" rx="1.6" ry="1.2" fill="#777"/>
<path d="M598.6,225.6 L598.6,220.6 Q598.8,217 602.2,216.8 Q605.6,217 605.8,220.6 L605.8,225.6 Z" fill="#2a2a2a" stroke="#0a0a0a" stroke-width="0.6" stroke-linejoin="round" stroke-linecap="round"/>
<ellipse cx="601.7" cy="219.1" rx="1.6" ry="1.2" fill="#777"/>
<path d="M1133.2,696.5 L1133.2,691.5 Q1133.4,687.9 1136.8,687.7 Q1140.2,687.9 1140.4,691.5 L1140.4,696.5 Z" fill="#2a2a2a" stroke="#0a0a0a" stroke-width="0.6" stroke-linejoin="round" stroke-linecap="round"/>
<ellipse cx="1136.3" cy="690" rx="1.6" ry="1.2" fill="#777"/>
<path d="M1241.4,683.5 L1241.4,678.5 Q1241.6,674.9 1245,674.7 Q1248.4,674.9 1248.6,678.5 L1248.6,683.5 Z" fill="#2a2a2a" stroke="#0a0a0a" stroke-width="0.6" stroke-linejoin="round" stroke-linecap="round"/>
<ellipse cx="1244.5" cy="677" rx="1.6" ry="1.2" fill="#777"/>
<rect x="865.4" y="895.2" width="4.6" height="16.5" rx="1" fill="#2f2f2f" stroke="#0f0f0f" stroke-width="0.6"/>
<rect x="866.4" y="896.2" width="1.4" height="14.5" rx="0" fill="#6a6a6a"/>
<ellipse cx="867.7" cy="896.2" rx="1.7" ry="1.2" fill="#777"/>
<rect x="863.4" y="910.7" width="8.6" height="5" rx="2" fill="#262626" stroke="#0a0a0a" stroke-width="0.6"/>
<rect x="881.7" y="941.4" width="4.6" height="16.5" rx="1" fill="#2f2f2f" stroke="#0f0f0f" stroke-width="0.6"/>
<rect x="882.7" y="942.4" width="1.4" height="14.5" rx="0" fill="#6a6a6a"/>
<ellipse cx="884" cy="942.4" rx="1.7" ry="1.2" fill="#777"/>
<rect x="879.7" y="956.9" width="8.6" height="5" rx="2" fill="#262626" stroke="#0a0a0a" stroke-width="0.6"/>
<rect x="942.4" y="942.1" width="4.6" height="16.5" rx="1" fill="#2f2f2f" stroke="#0f0f0f" stroke-width="0.6"/>
<rect x="943.4" y="943.1" width="1.4" height="14.5" rx="0" fill="#6a6a6a"/>
<ellipse cx="944.7" cy="943.1" rx="1.7" ry="1.2" fill="#777"/>
<rect x="940.4" y="957.6" width="8.6" height="5" rx="2" fill="#262626" stroke="#0a0a0a" stroke-width="0.6"/>
<rect x="943.9" y="969.9" width="4.6" height="16.5" rx="1" fill="#2f2f2f" stroke="#0f0f0f" stroke-width="0.6"/>
<rect x="944.9" y="970.9" width="1.4" height="14.5" rx="0" fill="#6a6a6a"/>
<ellipse cx="946.2" cy="970.9" rx="1.7" ry="1.2" fill="#777"/>
<rect x="941.9" y="985.4" width="8.6" height="5" rx="2" fill="#262626" stroke="#0a0a0a" stroke-width="0.6"/>
<rect x="892.5" y="935" width="44.5" height="31" rx="0" fill="#6b6b6b" stroke="#1a1a1a" stroke-width="0.8"/>
<ellipse cx="914.7" cy="966" rx="23.5" ry="8" fill="#8c8a5c" stroke="#1a1a1a" stroke-width="0.9"/>
<ellipse cx="914.7" cy="963.5" rx="22.3" ry="7.4" fill="#5a5a5a" stroke="#222" stroke-width="0.6"/>
<rect x="893" y="936" width="43.6" height="27" rx="0" fill="#6b6b6b"/>
<rect x="897" y="936" width="8" height="28" rx="0" fill="#858585"/>
<rect x="925" y="936" width="11.5" height="27" rx="0" fill="#4e4e4e"/>
<ellipse cx="914.2" cy="921.5" rx="36" ry="17" fill="#5e5e5e" stroke="#151515" stroke-width="0.9"/>
<ellipse cx="914.2" cy="918.2" rx="36" ry="17" fill="#9a9a9a" stroke="#151515" stroke-width="1"/>
<ellipse cx="883.3" cy="918.3" rx="2.6" ry="1.8" fill="#3a3a4a" stroke="#111" stroke-width="0.6"/>
<ellipse cx="944.2" cy="918.3" rx="2.6" ry="1.8" fill="#3a3a4a" stroke="#111" stroke-width="0.6"/>
<ellipse cx="914.1" cy="936.6" rx="2.6" ry="1.8" fill="#3a3a4a" stroke="#111" stroke-width="0.6"/>
<ellipse cx="914.1" cy="901.2" rx="2.6" ry="1.8" fill="#3a3a4a" stroke="#111" stroke-width="0.6"/>
<line x1="924" y1="932" x2="939" y2="923" stroke="#222" stroke-width="1.8"/>
<rect x="894.5" y="903" width="38.5" height="18" rx="0" fill="#7a7a7a" stroke="#1a1a1a" stroke-width="0.8"/>
<ellipse cx="913.8" cy="921" rx="19.2" ry="8" fill="#7a7a7a" stroke="#1a1a1a" stroke-width="0.8"/>
<rect x="895" y="903" width="37.6" height="18" rx="0" fill="#7a7a7a"/>
<rect x="922" y="903" width="10.5" height="19" rx="0" fill="#555"/>
<ellipse cx="913.8" cy="903" rx="19.2" ry="8.6" fill="#8a8a8a" stroke="#151515" stroke-width="0.9"/>
<ellipse cx="913.8" cy="903" rx="15.5" ry="6.6" fill="#7a3a8a" stroke="#222" stroke-width="0.7"/>
<ellipse cx="913.8" cy="902.5" rx="12" ry="5.2" fill="#a7a56c" stroke="#222" stroke-width="0.7"/>
<rect x="906.2" y="887" width="14.6" height="15" rx="0" fill="#6a6a6a" stroke="#151515" stroke-width="0.7"/>
<ellipse cx="913.5" cy="887" rx="7.3" ry="3.8" fill="#8e8e8e" stroke="#151515" stroke-width="0.7"/>
<ellipse cx="913.5" cy="887" rx="3" ry="1.6" fill="#2a2a3a"/>
<polygon points="790,999 887.8,998.5 889.3,995.5 998,995.5 1010.6,1003.5 1014.3,1002.2 1014.3,990.2 1037.4,990.2 1039.9,1003.5 1039.9,1017.3 942.9,1017.3 940.4,1014 831.4,1018 817.6,1009 790,1008.5" fill="#2c2c2c" stroke="#0a0a0a" stroke-width="0.9" stroke-linejoin="round"/>
<polygon points="790,1002.2 813.8,1002.2 820.1,1008.5 790,1008.5" fill="#1a1a1a"/>
<polygon points="945.4,1013.5 1039.9,1011.5 1039.9,1017.3 942.9,1017.3" fill="#1c1c1c"/>
<polygon points="1014.3,990.2 1037.4,990.2 1038.1,1001 1015.6,1001" fill="#1e1e1e"/>
<ellipse cx="914.6" cy="1006" rx="2.6" ry="2" fill="#cfcfcf" stroke="#111" stroke-width="0.7"/>
<ellipse cx="914.6" cy="1032" rx="10.2" ry="5.6" fill="#3c3c3c"/>
<ellipse cx="914.6" cy="1031" rx="10.2" ry="5.6" fill="#8a8a8a" stroke="#1c1c1c" stroke-width="0.8"/>
<ellipse cx="914.6" cy="1031" rx="3.468" ry="2.128" fill="#f2f2f2" stroke="#1c1c1c" stroke-width="0.7"/>
<rect x="912" y="1045.5" width="6.4" height="17.5" rx="1" fill="#2f2f2f" stroke="#0f0f0f" stroke-width="0.6"/>
<rect x="913" y="1046.5" width="1.4" height="15.5" rx="0" fill="#6a6a6a"/>
<ellipse cx="915.2" cy="1046.5" rx="2.6" ry="1.2" fill="#777"/>
<rect x="908.95" y="1062" width="12.5" height="8" rx="2" fill="#262626" stroke="#0a0a0a" stroke-width="0.6"/>
<line x1="67" y1="1076.8" x2="1400" y2="1076.8" stroke="#1a1a1a" stroke-width="2"/>
<polyline points="294.2,210 294.2,378" fill="none" stroke="#8585ee" stroke-width="1" stroke-linejoin="round" stroke-linecap="round"/>
<polyline points="346.9,238 346.9,375" fill="none" stroke="#8585ee" stroke-width="1" stroke-linejoin="round" stroke-linecap="round"/>
<polyline points="351.9,210 351.9,328" fill="none" stroke="#8585ee" stroke-width="1" stroke-linejoin="round" stroke-linecap="round"/>
<polyline points="305.5,358.3 327.6,342.2 346.9,357.8" fill="none" stroke="#8585ee" stroke-width="1" stroke-linejoin="round" stroke-linecap="round"/>
<polyline points="303,392.9 334.3,372.8 305.5,358.3" fill="none" stroke="#8585ee" stroke-width="1" stroke-linejoin="round" stroke-linecap="round"/>
<polyline points="350.6,360.3 487.3,439.7" fill="none" stroke="#8585ee" stroke-width="1" stroke-linejoin="round" stroke-linecap="round"/>
<polyline points="494.8,254 495.5,419.4" fill="none" stroke="#8585ee" stroke-width="1" stroke-linejoin="round" stroke-linecap="round"/>
<polyline points="495.5,419.4 520.4,432.7 521.7,510.4" fill="none" stroke="#8585ee" stroke-width="1" stroke-linejoin="round" stroke-linecap="round"/>
<polyline points="470.1,343 517.7,315.5" fill="none" stroke="#8585ee" stroke-width="1" stroke-linejoin="round" stroke-linecap="round"/>
<polyline points="602.2,226.5 602.2,241" fill="none" stroke="#8585ee" stroke-width="1" stroke-linejoin="round" stroke-linecap="round"/>
<polyline points="773.5,90 773.5,105" fill="none" stroke="#8585ee" stroke-width="1" stroke-linejoin="round" stroke-linecap="round"/>
<polyline points="774,178 774,188" fill="none" stroke="#8585ee" stroke-width="1" stroke-linejoin="round" stroke-linecap="round"/>
<polyline points="774.5,200 778.3,527" fill="none" stroke="#8585ee" stroke-width="1" stroke-linejoin="round" stroke-linecap="round"/>
<polyline points="729,262 729.7,274" fill="none" stroke="#8585ee" stroke-width="1" stroke-linejoin="round" stroke-linecap="round"/>
<polyline points="730.2,330 730.2,338" fill="none" stroke="#8585ee" stroke-width="1" stroke-linejoin="round" stroke-linecap="round"/>
<polyline points="730.4,362 730.6,370" fill="none" stroke="#8585ee" stroke-width="1" stroke-linejoin="round" stroke-linecap="round"/>
<polyline points="730.8,421 731,507.5" fill="none" stroke="#8585ee" stroke-width="1" stroke-linejoin="round" stroke-linecap="round"/>
<polyline points="840,290 840.5,305" fill="none" stroke="#8585ee" stroke-width="1" stroke-linejoin="round" stroke-linecap="round"/>
<polyline points="841.5,362 841.5,369" fill="none" stroke="#8585ee" stroke-width="1" stroke-linejoin="round" stroke-linecap="round"/>
<polyline points="841.8,390 842,401" fill="none" stroke="#8585ee" stroke-width="1" stroke-linejoin="round" stroke-linecap="round"/>
<polyline points="842.3,449 842.6,533" fill="none" stroke="#8585ee" stroke-width="1" stroke-linejoin="round" stroke-linecap="round"/>
<polyline points="841.6,535.4 754.6,585.6 754.6,615.6" fill="none" stroke="#8585ee" stroke-width="1" stroke-linejoin="round" stroke-linecap="round"/>
<polyline points="957,301 957,311" fill="none" stroke="#8585ee" stroke-width="1" stroke-linejoin="round" stroke-linecap="round"/>
<polyline points="957,316 957,325" fill="none" stroke="#8585ee" stroke-width="1" stroke-linejoin="round" stroke-linecap="round"/>
<polyline points="957.5,335 957.8,372" fill="none" stroke="#8585ee" stroke-width="1" stroke-linejoin="round" stroke-linecap="round"/>
<polyline points="958.3,410 958.3,455 908.4,482.8 908.9,522" fill="none" stroke="#8585ee" stroke-width="1" stroke-linejoin="round" stroke-linecap="round"/>
<polyline points="960,381 981,358" fill="none" stroke="#8585ee" stroke-width="1" stroke-linejoin="round" stroke-linecap="round"/>
<polyline points="957,383.5 918.5,406" fill="none" stroke="#8585ee" stroke-width="1" stroke-linejoin="round" stroke-linecap="round"/>
<polyline points="878.6,550 880.5,672" fill="none" stroke="#8585ee" stroke-width="1" stroke-linejoin="round" stroke-linecap="round"/>
<polyline points="909.2,568 911,690" fill="none" stroke="#8585ee" stroke-width="1" stroke-linejoin="round" stroke-linecap="round"/>
<polyline points="940,550 941.6,676" fill="none" stroke="#8585ee" stroke-width="1" stroke-linejoin="round" stroke-linecap="round"/>
<polyline points="1021.2,463 1021.2,505.3 915.7,567.5 915.7,575" fill="none" stroke="#8585ee" stroke-width="1" stroke-linejoin="round" stroke-linecap="round"/>
<polyline points="1085.6,494.8 920.2,588" fill="none" stroke="#8585ee" stroke-width="1" stroke-linejoin="round" stroke-linecap="round"/>
<polyline points="192.3,612.2 303.1,548.8 359.5,580.9" fill="none" stroke="#8585ee" stroke-width="1" stroke-linejoin="round" stroke-linecap="round"/>
<polyline points="122,601 136,608.5" fill="none" stroke="#8585ee" stroke-width="1" stroke-linejoin="round" stroke-linecap="round"/>
<polyline points="170,630 193,643" fill="none" stroke="#8585ee" stroke-width="1" stroke-linejoin="round" stroke-linecap="round"/>
<polyline points="203,649 216,656" fill="none" stroke="#8585ee" stroke-width="1" stroke-linejoin="round" stroke-linecap="round"/>
<polyline points="310,663.5 324,671" fill="none" stroke="#8585ee" stroke-width="1" stroke-linejoin="round" stroke-linecap="round"/>
<polyline points="347,671.6 543,559.2" fill="none" stroke="#8585ee" stroke-width="1" stroke-linejoin="round" stroke-linecap="round"/>
<polyline points="345,683 362,693" fill="none" stroke="#8585ee" stroke-width="1" stroke-linejoin="round" stroke-linecap="round"/>
<polyline points="200.5,716 216,725" fill="none" stroke="#8585ee" stroke-width="1" stroke-linejoin="round" stroke-linecap="round"/>
<polyline points="238,738 252,746.5" fill="none" stroke="#8585ee" stroke-width="1" stroke-linejoin="round" stroke-linecap="round"/>
<polyline points="440,645 521.7,593 521.7,599" fill="none" stroke="#8585ee" stroke-width="1" stroke-linejoin="round" stroke-linecap="round"/>
<polyline points="436.5,736.6 608.1,637.1 608.1,661.4" fill="none" stroke="#8585ee" stroke-width="1" stroke-linejoin="round" stroke-linecap="round"/>
<polyline points="778.4,800 778.4,906" fill="none" stroke="#8585ee" stroke-width="1" stroke-linejoin="round" stroke-linecap="round"/>
<polyline points="691,861 703,868" fill="none" stroke="#8585ee" stroke-width="1" stroke-linejoin="round" stroke-linecap="round"/>
<polyline points="735,888 756,899" fill="none" stroke="#8585ee" stroke-width="1" stroke-linejoin="round" stroke-linecap="round"/>
<polyline points="764,903.5 773,908" fill="none" stroke="#8585ee" stroke-width="1" stroke-linejoin="round" stroke-linecap="round"/>
<polyline points="912.8,834 913.2,884" fill="none" stroke="#8585ee" stroke-width="1" stroke-linejoin="round" stroke-linecap="round"/>
<polyline points="914.5,940 914.5,955 944,972" fill="none" stroke="#8585ee" stroke-width="1" stroke-linejoin="round" stroke-linecap="round"/>
<polyline points="914.7,979 915,1026" fill="none" stroke="#8585ee" stroke-width="1" stroke-linejoin="round" stroke-linecap="round"/>
<polyline points="915,1036 915.2,1046" fill="none" stroke="#8585ee" stroke-width="1" stroke-linejoin="round" stroke-linecap="round"/>
<polyline points="870,903 884,912" fill="none" stroke="#8585ee" stroke-width="1" stroke-linejoin="round" stroke-linecap="round"/>
<polyline points="884.5,935 884.5,941" fill="none" stroke="#8585ee" stroke-width="1" stroke-linejoin="round" stroke-linecap="round"/>
<polyline points="944.5,935 944.5,941" fill="none" stroke="#8585ee" stroke-width="1" stroke-linejoin="round" stroke-linecap="round"/>
<polyline points="896.7,758 896.7,745.4 1015.8,815.5" fill="none" stroke="#8585ee" stroke-width="1" stroke-linejoin="round" stroke-linecap="round"/>
<polyline points="857.9,707.8 857.9,662.7 1062,779.5" fill="none" stroke="#8585ee" stroke-width="1" stroke-linejoin="round" stroke-linecap="round"/>
<polyline points="1112,808.3 1137.8,823 1137.8,697" fill="none" stroke="#8585ee" stroke-width="1" stroke-linejoin="round" stroke-linecap="round"/>
<polyline points="1150.4,766.7 1102.8,794.2" fill="none" stroke="#8585ee" stroke-width="1" stroke-linejoin="round" stroke-linecap="round"/>
<polyline points="1245.1,685.2 1245.6,703" fill="none" stroke="#8585ee" stroke-width="1" stroke-linejoin="round" stroke-linecap="round"/>
<line x1="218.4" y1="200.7" x2="237" y2="240.3" stroke="#0a8a10" stroke-width="1"/>
<polygon points="243,253 233.5,242 240.6,238.7" fill="#0f9a14" stroke="#0a7a0e" stroke-width="0.5" stroke-linejoin="round"/>
<line x1="369" y1="169.8" x2="357.9" y2="188" stroke="#0a8a10" stroke-width="1"/>
<polygon points="350.6,200 354.5,186 361.2,190.1" fill="#0f9a14" stroke="#0a7a0e" stroke-width="0.5" stroke-linejoin="round"/>
<line x1="479.6" y1="211.9" x2="486.5" y2="231.8" stroke="#0a8a10" stroke-width="1"/>
<polygon points="491,245 482.8,233 490.1,230.5" fill="#0f9a14" stroke="#0a7a0e" stroke-width="0.5" stroke-linejoin="round"/>
<line x1="522" y1="192" x2="537.8" y2="231" stroke="#0a8a10" stroke-width="1"/>
<polygon points="543,244 534.1,232.5 541.4,229.6" fill="#0f9a14" stroke="#0a7a0e" stroke-width="0.5" stroke-linejoin="round"/>
<line x1="439.3" y1="277.5" x2="446.3" y2="313.3" stroke="#0a8a10" stroke-width="1"/>
<polygon points="449,327 442.5,314 450.1,312.5" fill="#0f9a14" stroke="#0a7a0e" stroke-width="0.5" stroke-linejoin="round"/>
<line x1="586.9" y1="143.5" x2="596.4" y2="158.2" stroke="#0a8a10" stroke-width="1"/>
<polygon points="604,170 593.1,160.4 599.7,156.1" fill="#0f9a14" stroke="#0a7a0e" stroke-width="0.5" stroke-linejoin="round"/>
<line x1="630.1" y1="134" x2="633.5" y2="152.2" stroke="#0a8a10" stroke-width="1"/>
<polygon points="636,166 629.6,152.9 637.3,151.5" fill="#0f9a14" stroke="#0a7a0e" stroke-width="0.5" stroke-linejoin="round"/>
<line x1="671.6" y1="119.2" x2="673.7" y2="143.1" stroke="#0a8a10" stroke-width="1"/>
<polygon points="675,157 669.8,143.4 677.6,142.7" fill="#0f9a14" stroke="#0a7a0e" stroke-width="0.5" stroke-linejoin="round"/>
<line x1="694.6" y1="233.2" x2="712" y2="246.9" stroke="#0a8a10" stroke-width="1"/>
<polygon points="723,255.6 709.6,250 714.4,243.9" fill="#0f9a14" stroke="#0a7a0e" stroke-width="0.5" stroke-linejoin="round"/>
<line x1="664.8" y1="295.5" x2="678.4" y2="292.2" stroke="#0a8a10" stroke-width="1"/>
<polygon points="692,289 679.3,296 677.5,288.5" fill="#0f9a14" stroke="#0a7a0e" stroke-width="0.5" stroke-linejoin="round"/>
<line x1="689.4" y1="340.3" x2="709.3" y2="344.9" stroke="#0a8a10" stroke-width="1"/>
<polygon points="723,348 708.5,348.7 710.2,341.1" fill="#0f9a14" stroke="#0a7a0e" stroke-width="0.5" stroke-linejoin="round"/>
<line x1="693.9" y1="386.9" x2="714.7" y2="393.7" stroke="#0a8a10" stroke-width="1"/>
<polygon points="728,398 713.5,397.4 715.9,389.9" fill="#0f9a14" stroke="#0a7a0e" stroke-width="0.5" stroke-linejoin="round"/>
<line x1="266.7" y1="405.9" x2="283.3" y2="392" stroke="#0a8a10" stroke-width="1"/>
<polygon points="294,383 285.8,395 280.8,389" fill="#0f9a14" stroke="#0a7a0e" stroke-width="0.5" stroke-linejoin="round"/>
<line x1="296.9" y1="449.7" x2="302.7" y2="433.7" stroke="#0a8a10" stroke-width="1"/>
<polygon points="307.5,420.5 306.4,435 299.1,432.3" fill="#0f9a14" stroke="#0a7a0e" stroke-width="0.5" stroke-linejoin="round"/>
<line x1="805.9" y1="54.1" x2="789.1" y2="58.1" stroke="#0a8a10" stroke-width="1"/>
<polygon points="775.5,61.4 788.2,54.3 790,61.9" fill="#0f9a14" stroke="#0a7a0e" stroke-width="0.5" stroke-linejoin="round"/>
<line x1="731.9" y1="89.3" x2="750.5" y2="103.1" stroke="#0a8a10" stroke-width="1"/>
<polygon points="761.7,111.5 748.1,106.3 752.8,100" fill="#0f9a14" stroke="#0a7a0e" stroke-width="0.5" stroke-linejoin="round"/>
<line x1="1099.3" y1="73.7" x2="1135.4" y2="98.1" stroke="#0a8a10" stroke-width="1"/>
<polygon points="1147,106 1133.2,101.4 1137.6,94.9" fill="#0f9a14" stroke="#0a7a0e" stroke-width="0.5" stroke-linejoin="round"/>
<line x1="731" y1="186.2" x2="754.2" y2="190.5" stroke="#0a8a10" stroke-width="1"/>
<polygon points="768,193 753.5,194.3 754.9,186.6" fill="#0f9a14" stroke="#0a7a0e" stroke-width="0.5" stroke-linejoin="round"/>
<line x1="833.4" y1="252.1" x2="835.9" y2="268.2" stroke="#0a8a10" stroke-width="1"/>
<polygon points="838,282 832,268.8 839.7,267.6" fill="#0f9a14" stroke="#0a7a0e" stroke-width="0.5" stroke-linejoin="round"/>
<line x1="806.2" y1="282" x2="809.8" y2="293.2" stroke="#0a8a10" stroke-width="1"/>
<polygon points="814,306.5 806.1,294.3 813.5,292" fill="#0f9a14" stroke="#0a7a0e" stroke-width="0.5" stroke-linejoin="round"/>
<line x1="922.8" y1="256.4" x2="947.9" y2="298.9" stroke="#0a8a10" stroke-width="1"/>
<polygon points="955,311 944.5,300.9 951.2,297" fill="#0f9a14" stroke="#0a7a0e" stroke-width="0.5" stroke-linejoin="round"/>
<line x1="923.3" y1="300.7" x2="942.2" y2="318" stroke="#0a8a10" stroke-width="1"/>
<polygon points="952.5,327.5 939.5,320.9 944.8,315.2" fill="#0f9a14" stroke="#0a7a0e" stroke-width="0.5" stroke-linejoin="round"/>
<line x1="998.3" y1="309.7" x2="973.7" y2="298.4" stroke="#0a8a10" stroke-width="1"/>
<polygon points="961,292.5 975.3,294.8 972.1,301.9" fill="#0f9a14" stroke="#0a7a0e" stroke-width="0.5" stroke-linejoin="round"/>
<line x1="913.4" y1="344.4" x2="919.6" y2="356.5" stroke="#0a8a10" stroke-width="1"/>
<polygon points="926,369 916.1,358.3 923.1,354.8" fill="#0f9a14" stroke="#0a7a0e" stroke-width="0.5" stroke-linejoin="round"/>
<line x1="1010.2" y1="357.4" x2="997.6" y2="351.2" stroke="#0a8a10" stroke-width="1"/>
<polygon points="985,345 999.3,347.7 995.8,354.7" fill="#0f9a14" stroke="#0a7a0e" stroke-width="0.5" stroke-linejoin="round"/>
<line x1="893.4" y1="395.2" x2="902" y2="398.7" stroke="#0a8a10" stroke-width="1"/>
<polygon points="915,404 900.6,402.3 903.5,395.1" fill="#0f9a14" stroke="#0a7a0e" stroke-width="0.5" stroke-linejoin="round"/>
<line x1="813.6" y1="393.5" x2="821.4" y2="389.8" stroke="#0a8a10" stroke-width="1"/>
<polygon points="834,383.8 823,393.4 819.7,386.3" fill="#0f9a14" stroke="#0a7a0e" stroke-width="0.5" stroke-linejoin="round"/>
<line x1="1070.6" y1="408" x2="1038.1" y2="420.1" stroke="#0a8a10" stroke-width="1"/>
<polygon points="1025,425 1036.8,416.5 1039.5,423.8" fill="#0f9a14" stroke="#0a7a0e" stroke-width="0.5" stroke-linejoin="round"/>
<line x1="812.1" y1="442" x2="825.9" y2="432.1" stroke="#0a8a10" stroke-width="1"/>
<polygon points="837.3,424 828.2,435.3 823.6,428.9" fill="#0f9a14" stroke="#0a7a0e" stroke-width="0.5" stroke-linejoin="round"/>
<line x1="990.9" y1="463.9" x2="1004.7" y2="468.4" stroke="#0a8a10" stroke-width="1"/>
<polygon points="1018,472.8 1003.5,472.1 1005.9,464.7" fill="#0f9a14" stroke="#0a7a0e" stroke-width="0.5" stroke-linejoin="round"/>
<line x1="885" y1="507" x2="880.9" y2="530.2" stroke="#0a8a10" stroke-width="1"/>
<polygon points="878.5,544 877.1,529.5 884.8,530.9" fill="#0f9a14" stroke="#0a7a0e" stroke-width="0.5" stroke-linejoin="round"/>
<line x1="977.5" y1="502.4" x2="1003.2" y2="497.8" stroke="#0a8a10" stroke-width="1"/>
<polygon points="1017,495.3 1003.9,501.6 1002.5,493.9" fill="#0f9a14" stroke="#0a7a0e" stroke-width="0.5" stroke-linejoin="round"/>
<line x1="1113.2" y1="495.9" x2="1101.4" y2="494.8" stroke="#0a8a10" stroke-width="1"/>
<polygon points="1087.5,493.5 1101.8,490.9 1101.1,498.7" fill="#0f9a14" stroke="#0a7a0e" stroke-width="0.5" stroke-linejoin="round"/>
<line x1="130.3" y1="564.9" x2="117.7" y2="576.9" stroke="#0a8a10" stroke-width="1"/>
<polygon points="107.5,586.5 115,574 120.3,579.7" fill="#0f9a14" stroke="#0a7a0e" stroke-width="0.5" stroke-linejoin="round"/>
<line x1="201.5" y1="565.9" x2="186.8" y2="582.5" stroke="#0a8a10" stroke-width="1"/>
<polygon points="177.5,593 183.9,579.9 189.7,585.1" fill="#0f9a14" stroke="#0a7a0e" stroke-width="0.5" stroke-linejoin="round"/>
<line x1="240" y1="627.4" x2="218.1" y2="640" stroke="#0a8a10" stroke-width="1"/>
<polygon points="206,647 216.2,636.6 220.1,643.4" fill="#0f9a14" stroke="#0a7a0e" stroke-width="0.5" stroke-linejoin="round"/>
<line x1="256.4" y1="670.2" x2="238.8" y2="667.6" stroke="#0a8a10" stroke-width="1"/>
<polygon points="225,665.5 239.4,663.7 238.3,671.4" fill="#0f9a14" stroke="#0a7a0e" stroke-width="0.5" stroke-linejoin="round"/>
<line x1="414.8" y1="679.6" x2="425.5" y2="665.7" stroke="#0a8a10" stroke-width="1"/>
<polygon points="434,654.6 428.6,668.1 422.4,663.3" fill="#0f9a14" stroke="#0a7a0e" stroke-width="0.5" stroke-linejoin="round"/>
<line x1="167.1" y1="741.4" x2="172.1" y2="724" stroke="#0a8a10" stroke-width="1"/>
<polygon points="176,710.5 175.9,725 168.4,722.9" fill="#0f9a14" stroke="#0a7a0e" stroke-width="0.5" stroke-linejoin="round"/>
<line x1="298.3" y1="748.5" x2="287.9" y2="723.4" stroke="#0a8a10" stroke-width="1"/>
<polygon points="282.5,710.5 291.5,721.9 284.3,724.9" fill="#0f9a14" stroke="#0a7a0e" stroke-width="0.5" stroke-linejoin="round"/>
<line x1="354.6" y1="730.6" x2="359.6" y2="715.3" stroke="#0a8a10" stroke-width="1"/>
<polygon points="364,702 363.3,716.5 355.9,714.1" fill="#0f9a14" stroke="#0a7a0e" stroke-width="0.5" stroke-linejoin="round"/>
<line x1="236.9" y1="789.1" x2="247.6" y2="768" stroke="#0a8a10" stroke-width="1"/>
<polygon points="254,755.5 251.1,769.7 244.2,766.2" fill="#0f9a14" stroke="#0a7a0e" stroke-width="0.5" stroke-linejoin="round"/>
<line x1="411.4" y1="784.5" x2="420.2" y2="766.6" stroke="#0a8a10" stroke-width="1"/>
<polygon points="426.4,754 423.7,768.3 416.7,764.8" fill="#0f9a14" stroke="#0a7a0e" stroke-width="0.5" stroke-linejoin="round"/>
<line x1="661.6" y1="802.3" x2="688" y2="784.5" stroke="#0a8a10" stroke-width="1"/>
<polygon points="699.6,776.7 690.2,787.8 685.8,781.3" fill="#0f9a14" stroke="#0a7a0e" stroke-width="0.5" stroke-linejoin="round"/>
<line x1="643.4" y1="870.3" x2="657.8" y2="862.3" stroke="#0a8a10" stroke-width="1"/>
<polygon points="670,855.5 659.7,865.7 655.9,858.9" fill="#0f9a14" stroke="#0a7a0e" stroke-width="0.5" stroke-linejoin="round"/>
<line x1="677.3" y1="917.2" x2="685.4" y2="912.5" stroke="#0a8a10" stroke-width="1"/>
<polygon points="697.5,905.5 687.3,915.9 683.4,909.1" fill="#0f9a14" stroke="#0a7a0e" stroke-width="0.5" stroke-linejoin="round"/>
<line x1="1171.4" y1="656.6" x2="1148.8" y2="679.7" stroke="#0a8a10" stroke-width="1"/>
<polygon points="1139,689.7 1146,677 1151.6,682.4" fill="#0f9a14" stroke="#0a7a0e" stroke-width="0.5" stroke-linejoin="round"/>
<line x1="1252.4" y1="807.5" x2="1243.8" y2="790" stroke="#0a8a10" stroke-width="1"/>
<polygon points="1237.6,777.4 1247.3,788.2 1240.3,791.7" fill="#0f9a14" stroke="#0a7a0e" stroke-width="0.5" stroke-linejoin="round"/>
<line x1="1119.4" y1="853.2" x2="1112.7" y2="839.4" stroke="#0a8a10" stroke-width="1"/>
<polygon points="1106.5,826.8 1116.2,837.7 1109.1,841.1" fill="#0f9a14" stroke="#0a7a0e" stroke-width="0.5" stroke-linejoin="round"/>
<line x1="1046.9" y1="871.7" x2="1040.3" y2="851.3" stroke="#0a8a10" stroke-width="1"/>
<polygon points="1036,838 1044,850.1 1036.6,852.5" fill="#0f9a14" stroke="#0a7a0e" stroke-width="0.5" stroke-linejoin="round"/>
<line x1="983.4" y1="917" x2="962.4" y2="919.1" stroke="#0a8a10" stroke-width="1"/>
<polygon points="948.5,920.5 962,915.2 962.8,923" fill="#0f9a14" stroke="#0a7a0e" stroke-width="0.5" stroke-linejoin="round"/>
<line x1="833.5" y1="907.4" x2="848.5" y2="908.5" stroke="#0a8a10" stroke-width="1"/>
<polygon points="862.5,909.5 848.3,912.4 848.8,904.6" fill="#0f9a14" stroke="#0a7a0e" stroke-width="0.5" stroke-linejoin="round"/>
<line x1="847.6" y1="959.9" x2="866" y2="958.8" stroke="#0a8a10" stroke-width="1"/>
<polygon points="880,958 866.3,962.7 865.8,954.9" fill="#0f9a14" stroke="#0a7a0e" stroke-width="0.5" stroke-linejoin="round"/>
<line x1="729.3" y1="937.1" x2="744.5" y2="920.8" stroke="#0a8a10" stroke-width="1"/>
<polygon points="754,910.5 747.3,923.4 741.6,918.1" fill="#0f9a14" stroke="#0a7a0e" stroke-width="0.5" stroke-linejoin="round"/>
<line x1="763.4" y1="945.4" x2="769.5" y2="930.9" stroke="#0a8a10" stroke-width="1"/>
<polygon points="775,918 773.1,932.4 765.9,929.4" fill="#0f9a14" stroke="#0a7a0e" stroke-width="0.5" stroke-linejoin="round"/>
<line x1="744.9" y1="1000.7" x2="775" y2="1000.2" stroke="#0a8a10" stroke-width="1"/>
<polygon points="789,1000 775.1,1004.1 774.9,996.3" fill="#0f9a14" stroke="#0a7a0e" stroke-width="0.5" stroke-linejoin="round"/>
<line x1="874.7" y1="1051" x2="894.2" y2="1057.5" stroke="#0a8a10" stroke-width="1"/>
<polygon points="907.5,1062 893,1061.2 895.5,1053.9" fill="#0f9a14" stroke="#0a7a0e" stroke-width="0.5" stroke-linejoin="round"/>
<line x1="960.2" y1="1041.5" x2="938.6" y2="1036.3" stroke="#0a8a10" stroke-width="1"/>
<polygon points="925,1033 939.5,1032.5 937.7,1040.1" fill="#0f9a14" stroke="#0a7a0e" stroke-width="0.5" stroke-linejoin="round"/>
<g filter="url(#nf)">
<circle cx="211" cy="185" r="17.3" fill="#fff" stroke="#262626" stroke-width="1.1"/>
<text x="211" y="190.8" transform="translate(211 0) scale(0.79 1) translate(-211 0)">42</text>
<circle cx="378" cy="155" r="17.3" fill="#fff" stroke="#262626" stroke-width="1.1"/>
<text x="378" y="160.8" transform="translate(378 0) scale(0.79 1) translate(-378 0)">14</text>
<circle cx="474" cy="195.5" r="17.3" fill="#fff" stroke="#262626" stroke-width="1.1"/>
<text x="474" y="201.3" transform="translate(474 0) scale(0.79 1) translate(-474 0)">1</text>
<circle cx="515.5" cy="176" r="17.3" fill="#fff" stroke="#262626" stroke-width="1.1"/>
<text x="515.5" y="181.8" transform="translate(515.5 0) scale(0.79 1) translate(-515.5 0)">7</text>
<circle cx="436" cy="260.5" r="17.3" fill="#fff" stroke="#262626" stroke-width="1.1"/>
<text x="436" y="266.3" transform="translate(436 0) scale(0.79 1) translate(-436 0)">39</text>
<circle cx="577.5" cy="129" r="17.3" fill="#fff" stroke="#262626" stroke-width="1.1"/>
<text x="577.5" y="134.8" transform="translate(577.5 0) scale(0.79 1) translate(-577.5 0)">4</text>
<circle cx="627" cy="117" r="17.3" fill="#fff" stroke="#262626" stroke-width="1.1"/>
<text x="627" y="122.8" transform="translate(627 0) scale(0.79 1) translate(-627 0)">10</text>
<circle cx="670" cy="102" r="17.3" fill="#fff" stroke="#262626" stroke-width="1.1"/>
<text x="670" y="107.8" transform="translate(670 0) scale(0.79 1) translate(-670 0)">30</text>
<circle cx="681" cy="222.5" r="17.3" fill="#fff" stroke="#262626" stroke-width="1.1"/>
<text x="681" y="228.3" transform="translate(681 0) scale(0.79 1) translate(-681 0)">6</text>
<circle cx="648" cy="299.5" r="17.3" fill="#fff" stroke="#262626" stroke-width="1.1"/>
<text x="648" y="305.3" transform="translate(648 0) scale(0.79 1) translate(-648 0)">29</text>
<circle cx="672.5" cy="336.5" r="17.3" fill="#fff" stroke="#262626" stroke-width="1.1"/>
<text x="672.5" y="342.3" transform="translate(672.5 0) scale(0.79 1) translate(-672.5 0)">25</text>
<circle cx="677.5" cy="381.5" r="17.3" fill="#fff" stroke="#262626" stroke-width="1.1"/>
<text x="677.5" y="387.3" transform="translate(677.5 0) scale(0.79 1) translate(-677.5 0)">12</text>
<circle cx="253.5" cy="417" r="17.3" fill="#fff" stroke="#262626" stroke-width="1.1"/>
<text x="253.5" y="422.8" transform="translate(253.5 0) scale(0.79 1) translate(-253.5 0)">2</text>
<circle cx="291" cy="466" r="17.3" fill="#fff" stroke="#262626" stroke-width="1.1"/>
<text x="291" y="471.8" transform="translate(291 0) scale(0.79 1) translate(-291 0)">39</text>
<circle cx="822.7" cy="50" r="17.3" fill="#fff" stroke="#262626" stroke-width="1.1"/>
<text x="822.7" y="55.8" transform="translate(822.7 0) scale(0.79 1) translate(-822.7 0)">18</text>
<circle cx="718" cy="79" r="17.3" fill="#fff" stroke="#262626" stroke-width="1.1"/>
<text x="718" y="84.8" transform="translate(718 0) scale(0.79 1) translate(-718 0)">34</text>
<circle cx="1085" cy="64" r="17.3" fill="#fff" stroke="#262626" stroke-width="1.1"/>
<text x="1085" y="69.8" transform="translate(1085 0) scale(0.79 1) translate(-1085 0)">35</text>
<circle cx="714" cy="183" r="17.3" fill="#fff" stroke="#262626" stroke-width="1.1"/>
<text x="714" y="188.8" transform="translate(714 0) scale(0.79 1) translate(-714 0)">5</text>
<circle cx="830.8" cy="235" r="17.3" fill="#fff" stroke="#262626" stroke-width="1.1"/>
<text x="830.8" y="240.8" transform="translate(830.8 0) scale(0.79 1) translate(-830.8 0)">6</text>
<circle cx="801" cy="265.5" r="17.3" fill="#fff" stroke="#262626" stroke-width="1.1"/>
<text x="801" y="271.3" transform="translate(801 0) scale(0.79 1) translate(-801 0)">29</text>
<circle cx="914" cy="241.5" r="17.3" fill="#fff" stroke="#262626" stroke-width="1.1"/>
<text x="914" y="247.3" transform="translate(914 0) scale(0.79 1) translate(-914 0)">20</text>
<circle cx="910.5" cy="289" r="17.3" fill="#fff" stroke="#262626" stroke-width="1.1"/>
<text x="910.5" y="294.8" transform="translate(910.5 0) scale(0.79 1) translate(-910.5 0)">22</text>
<circle cx="1014" cy="317" r="17.3" fill="#fff" stroke="#262626" stroke-width="1.1"/>
<text x="1014" y="322.8" transform="translate(1014 0) scale(0.79 1) translate(-1014 0)">15</text>
<circle cx="905.5" cy="329" r="17.3" fill="#fff" stroke="#262626" stroke-width="1.1"/>
<text x="905.5" y="334.8" transform="translate(905.5 0) scale(0.79 1) translate(-905.5 0)">28</text>
<circle cx="1025.7" cy="365" r="17.3" fill="#fff" stroke="#262626" stroke-width="1.1"/>
<text x="1025.7" y="370.8" transform="translate(1025.7 0) scale(0.79 1) translate(-1025.7 0)">36</text>
<circle cx="877.4" cy="388.7" r="17.3" fill="#fff" stroke="#262626" stroke-width="1.1"/>
<text x="877.4" y="394.5" transform="translate(877.4 0) scale(0.79 1) translate(-877.4 0)">27</text>
<circle cx="798" cy="401" r="17.3" fill="#fff" stroke="#262626" stroke-width="1.1"/>
<text x="798" y="406.8" transform="translate(798 0) scale(0.79 1) translate(-798 0)">24</text>
<circle cx="1086.8" cy="402" r="17.3" fill="#fff" stroke="#262626" stroke-width="1.1"/>
<text x="1086.8" y="407.8" transform="translate(1086.8 0) scale(0.79 1) translate(-1086.8 0)">19</text>
<circle cx="798" cy="452" r="17.3" fill="#fff" stroke="#262626" stroke-width="1.1"/>
<text x="798" y="457.8" transform="translate(798 0) scale(0.79 1) translate(-798 0)">11</text>
<circle cx="974.5" cy="458.5" r="17.3" fill="#fff" stroke="#262626" stroke-width="1.1"/>
<text x="974.5" y="464.3" transform="translate(974.5 0) scale(0.79 1) translate(-974.5 0)">2</text>
<circle cx="888" cy="490" r="17.3" fill="#fff" stroke="#262626" stroke-width="1.1"/>
<text x="888" y="495.8" transform="translate(888 0) scale(0.79 1) translate(-888 0)">3</text>
<circle cx="960.5" cy="505.5" r="17.3" fill="#fff" stroke="#262626" stroke-width="1.1"/>
<text x="960.5" y="511.3" transform="translate(960.5 0) scale(0.79 1) translate(-960.5 0)">3</text>
<circle cx="1130.4" cy="497.5" r="17.3" fill="#fff" stroke="#262626" stroke-width="1.1"/>
<text x="1130.4" y="503.3" transform="translate(1130.4 0) scale(0.79 1) translate(-1130.4 0)">33</text>
<circle cx="142.8" cy="553" r="17.3" fill="#fff" stroke="#262626" stroke-width="1.1"/>
<text x="142.8" y="558.8" transform="translate(142.8 0) scale(0.79 1) translate(-142.8 0)">9</text>
<circle cx="213" cy="553" r="17.3" fill="#fff" stroke="#262626" stroke-width="1.1"/>
<text x="213" y="558.8" transform="translate(213 0) scale(0.79 1) translate(-213 0)">23</text>
<circle cx="255" cy="618.7" r="17.3" fill="#fff" stroke="#262626" stroke-width="1.1"/>
<text x="255" y="624.5" transform="translate(255 0) scale(0.79 1) translate(-255 0)">22</text>
<circle cx="273.5" cy="672.8" r="17.3" fill="#fff" stroke="#262626" stroke-width="1.1"/>
<text x="273.5" y="678.6" transform="translate(273.5 0) scale(0.79 1) translate(-273.5 0)">6</text>
<circle cx="404.3" cy="693.3" r="17.3" fill="#fff" stroke="#262626" stroke-width="1.1"/>
<text x="404.3" y="699.1" transform="translate(404.3 0) scale(0.79 1) translate(-404.3 0)">41</text>
<circle cx="162.3" cy="758" r="17.3" fill="#fff" stroke="#262626" stroke-width="1.1"/>
<text x="162.3" y="763.8" transform="translate(162.3 0) scale(0.79 1) translate(-162.3 0)">17</text>
<circle cx="305" cy="764.5" r="17.3" fill="#fff" stroke="#262626" stroke-width="1.1"/>
<text x="305" y="770.3" transform="translate(305 0) scale(0.79 1) translate(-305 0)">26</text>
<circle cx="349.2" cy="747" r="17.3" fill="#fff" stroke="#262626" stroke-width="1.1"/>
<text x="349.2" y="752.8" transform="translate(349.2 0) scale(0.79 1) translate(-349.2 0)">6</text>
<circle cx="229" cy="804.5" r="17.3" fill="#fff" stroke="#262626" stroke-width="1.1"/>
<text x="229" y="810.3" transform="translate(229 0) scale(0.79 1) translate(-229 0)">6</text>
<circle cx="403.8" cy="800" r="17.3" fill="#fff" stroke="#262626" stroke-width="1.1"/>
<text x="403.8" y="805.8" transform="translate(403.8 0) scale(0.79 1) translate(-403.8 0)">40</text>
<circle cx="647.3" cy="812" r="17.3" fill="#fff" stroke="#262626" stroke-width="1.1"/>
<text x="647.3" y="817.8" transform="translate(647.3 0) scale(0.79 1) translate(-647.3 0)">37</text>
<circle cx="628.3" cy="878.7" r="17.3" fill="#fff" stroke="#262626" stroke-width="1.1"/>
<text x="628.3" y="884.5" transform="translate(628.3 0) scale(0.79 1) translate(-628.3 0)">9</text>
<circle cx="662.3" cy="925.8" r="17.3" fill="#fff" stroke="#262626" stroke-width="1.1"/>
<text x="662.3" y="931.6" transform="translate(662.3 0) scale(0.79 1) translate(-662.3 0)">23</text>
<circle cx="1183.5" cy="644.2" r="17.3" fill="#fff" stroke="#262626" stroke-width="1.1"/>
<text x="1183.5" y="650" transform="translate(1183.5 0) scale(0.79 1) translate(-1183.5 0)">1</text>
<circle cx="1260" cy="823" r="17.3" fill="#fff" stroke="#262626" stroke-width="1.1"/>
<text x="1260" y="828.8" transform="translate(1260 0) scale(0.79 1) translate(-1260 0)">8</text>
<circle cx="1127" cy="868.7" r="17.3" fill="#fff" stroke="#262626" stroke-width="1.1"/>
<text x="1127" y="874.5" transform="translate(1127 0) scale(0.79 1) translate(-1127 0)">39</text>
<circle cx="1052.2" cy="888.2" r="17.3" fill="#fff" stroke="#262626" stroke-width="1.1"/>
<text x="1052.2" y="894" transform="translate(1052.2 0) scale(0.79 1) translate(-1052.2 0)">38</text>
<circle cx="1000.6" cy="915.3" r="17.3" fill="#fff" stroke="#262626" stroke-width="1.1"/>
<text x="1000.6" y="921.1" transform="translate(1000.6 0) scale(0.79 1) translate(-1000.6 0)">31</text>
<circle cx="816.2" cy="906.2" r="17.3" fill="#fff" stroke="#262626" stroke-width="1.1"/>
<text x="816.2" y="912" transform="translate(816.2 0) scale(0.79 1) translate(-816.2 0)">13</text>
<circle cx="830.3" cy="960.9" r="17.3" fill="#fff" stroke="#262626" stroke-width="1.1"/>
<text x="830.3" y="966.7" transform="translate(830.3 0) scale(0.79 1) translate(-830.3 0)">13</text>
<circle cx="717.5" cy="949.8" r="17.3" fill="#fff" stroke="#262626" stroke-width="1.1"/>
<text x="717.5" y="955.6" transform="translate(717.5 0) scale(0.79 1) translate(-717.5 0)">22</text>
<circle cx="756.6" cy="961.3" r="17.3" fill="#fff" stroke="#262626" stroke-width="1.1"/>
<text x="756.6" y="967.1" transform="translate(756.6 0) scale(0.79 1) translate(-756.6 0)">6</text>
<circle cx="727.6" cy="1001" r="17.3" fill="#fff" stroke="#262626" stroke-width="1.1"/>
<text x="727.6" y="1006.8" transform="translate(727.6 0) scale(0.79 1) translate(-727.6 0)">32</text>
<circle cx="858.3" cy="1045.5" r="17.3" fill="#fff" stroke="#262626" stroke-width="1.1"/>
<text x="858.3" y="1051.3" transform="translate(858.3 0) scale(0.79 1) translate(-858.3 0)">16</text>
<circle cx="977" cy="1045.5" r="17.3" fill="#fff" stroke="#262626" stroke-width="1.1"/>
<text x="977" y="1051.3" transform="translate(977 0) scale(0.79 1) translate(-977 0)">21</text>
</g>
</svg>
</body>
</html>
